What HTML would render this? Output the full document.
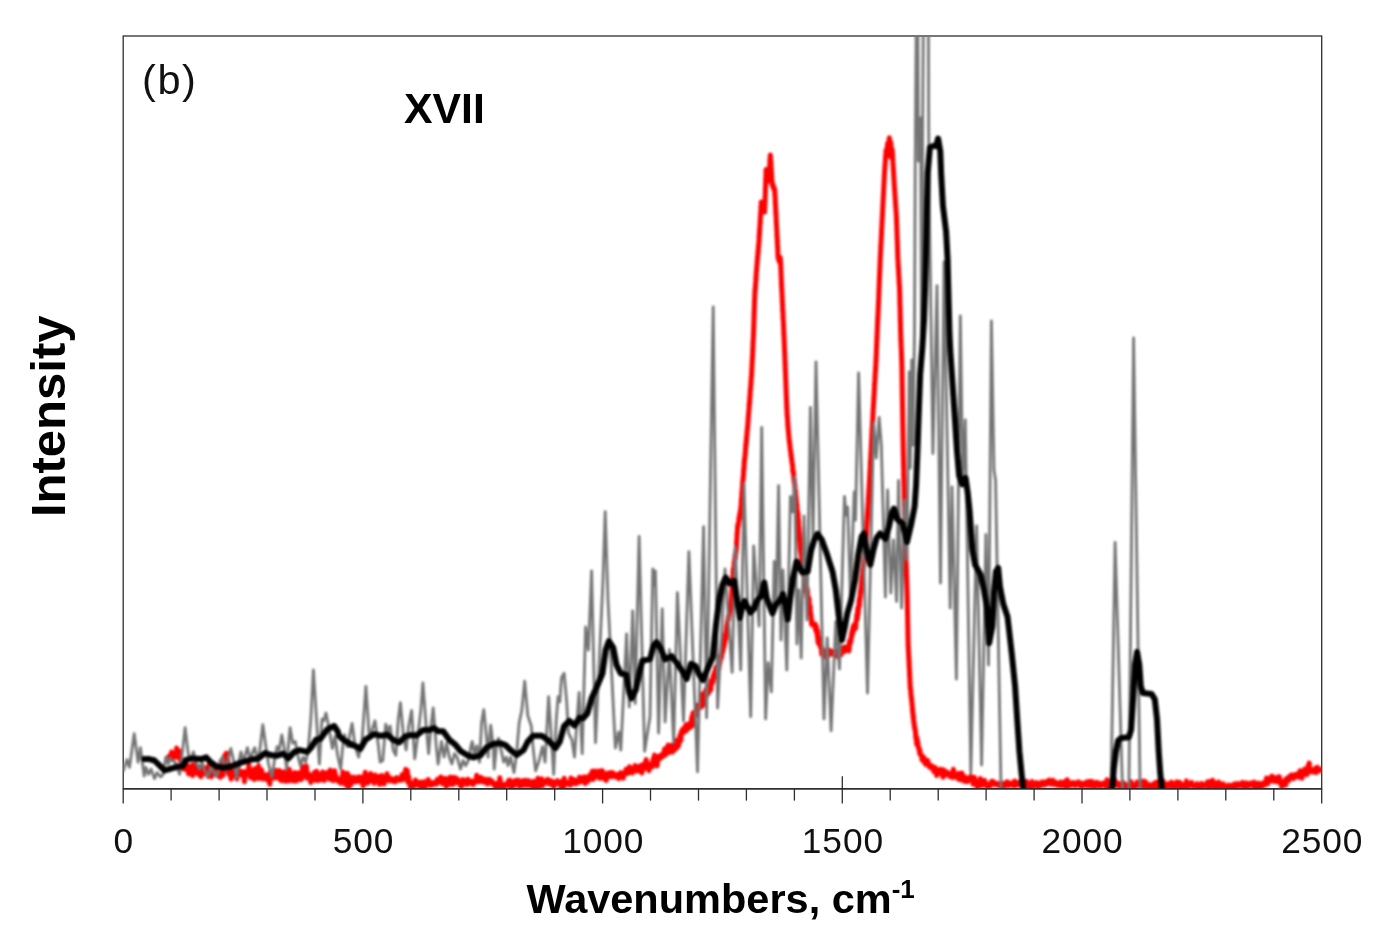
<!DOCTYPE html>
<html lang="en">
<head>
<meta charset="utf-8">
<title>Raman spectrum XVII</title>
<style>
html,body{margin:0;padding:0;background:#fff;}
body{width:1390px;height:944px;overflow:hidden;position:relative;font-family:"Liberation Sans",sans-serif;}
svg{position:absolute;left:0;top:0;display:block;}
.tk text{font-family:"Liberation Sans",sans-serif;font-size:35.3px;fill:#111;letter-spacing:0.9px;}
.b{font-family:"Liberation Sans",sans-serif;font-weight:bold;fill:#000;}
</style>
</head>
<body>
<svg width="1390" height="944" viewBox="0 0 1390 944">
<defs><clipPath id="plot"><rect x="123.2" y="36.0" width="1198.5" height="752.5"/></clipPath></defs>
<rect x="0" y="0" width="1390" height="944" fill="#fff"/>
<g stroke="#2e2e2e" stroke-width="1.3" fill="none">
<rect x="123.2" y="36.0" width="1198.5" height="752.8"/>
<line x1="123.2" y1="788.8" x2="123.2" y2="803.5"/>
<line x1="171.1" y1="788.8" x2="171.1" y2="800.6"/>
<line x1="219.1" y1="788.8" x2="219.1" y2="800.6"/>
<line x1="267.0" y1="788.8" x2="267.0" y2="800.6"/>
<line x1="315.0" y1="788.8" x2="315.0" y2="800.6"/>
<line x1="362.9" y1="788.8" x2="362.9" y2="803.5"/>
<line x1="410.8" y1="788.8" x2="410.8" y2="800.6"/>
<line x1="458.8" y1="788.8" x2="458.8" y2="800.6"/>
<line x1="506.7" y1="788.8" x2="506.7" y2="800.6"/>
<line x1="554.7" y1="788.8" x2="554.7" y2="800.6"/>
<line x1="602.6" y1="788.8" x2="602.6" y2="803.5"/>
<line x1="650.5" y1="788.8" x2="650.5" y2="800.6"/>
<line x1="698.5" y1="788.8" x2="698.5" y2="800.6"/>
<line x1="746.4" y1="788.8" x2="746.4" y2="800.6"/>
<line x1="794.4" y1="788.8" x2="794.4" y2="800.6"/>
<line x1="842.3" y1="776.3" x2="842.3" y2="803.5"/>
<line x1="890.2" y1="788.8" x2="890.2" y2="800.6"/>
<line x1="938.2" y1="788.8" x2="938.2" y2="800.6"/>
<line x1="986.1" y1="788.8" x2="986.1" y2="800.6"/>
<line x1="1034.1" y1="788.8" x2="1034.1" y2="800.6"/>
<line x1="1082.0" y1="788.8" x2="1082.0" y2="803.5"/>
<line x1="1129.9" y1="788.8" x2="1129.9" y2="800.6"/>
<line x1="1177.9" y1="788.8" x2="1177.9" y2="800.6"/>
<line x1="1225.8" y1="788.8" x2="1225.8" y2="800.6"/>
<line x1="1273.8" y1="788.8" x2="1273.8" y2="800.6"/>
<line x1="1321.7" y1="788.8" x2="1321.7" y2="803.5"/>
</g>
<g clip-path="url(#plot)"><g style="filter:blur(0.8px)" fill="none" stroke-linejoin="round" stroke-linecap="round">
<polyline stroke="#ff0000" stroke-width="5" points="169.2,756.1 169.8,758.3 170.4,755.3 171.0,754.5 171.6,752.0 172.1,754.0 172.7,758.0 173.4,755.3 174.1,757.2 174.8,754.2 175.5,754.5 176.2,753.8 176.6,748.1 177.1,757.3 177.6,756.7 178.0,757.2 178.5,750.4 179.0,750.8 179.4,754.3 179.9,756.3 180.3,759.6 180.6,759.0 180.9,761.6 181.3,758.4 181.6,762.3 181.9,763.2 182.3,760.3 182.6,769.1 182.9,765.8 183.3,768.6 183.6,763.1 184.0,763.4 184.5,765.2 185.1,766.5 185.7,769.5 186.2,768.7 186.8,766.8 187.4,765.6 188.0,767.5 188.5,773.9 189.1,767.5 189.7,771.6 190.3,772.5 191.1,766.0 191.8,771.3 192.6,775.6 193.3,764.4 194.1,770.2 194.8,771.0 195.6,768.6 196.3,773.1 197.1,771.3 197.8,766.5 198.6,774.4 199.3,773.9 200.1,774.9 200.8,776.6 201.6,773.0 202.3,772.2 203.1,767.5 203.8,774.0 204.6,769.9 205.3,770.5 206.1,767.7 206.8,768.7 207.6,770.2 208.3,776.4 209.1,765.1 209.8,767.0 210.6,772.8 211.3,776.9 212.1,774.0 212.8,765.5 213.6,763.4 214.3,773.2 215.1,769.5 215.8,768.2 216.6,775.3 217.3,775.7 218.1,772.5 218.8,772.8 219.6,773.5 220.3,777.4 221.1,774.1 221.8,773.8 222.6,773.9 223.0,766.4 223.1,775.3 223.2,773.5 223.3,771.3 223.3,762.0 223.4,765.8 223.5,770.1 223.6,760.3 223.6,765.1 223.7,768.4 223.8,759.8 223.9,769.0 223.9,764.6 224.0,761.5 224.1,762.4 224.1,762.7 224.2,760.2 224.3,762.9 224.4,756.0 224.4,756.1 224.7,760.5 225.4,756.7 226.1,753.4 226.8,759.3 227.1,761.5 227.1,755.8 227.2,753.3 227.3,758.3 227.3,759.0 227.4,759.3 227.5,765.8 227.5,758.3 227.6,766.8 227.7,758.9 227.8,761.3 227.8,766.9 227.9,769.3 228.0,769.2 228.0,768.2 228.1,768.2 228.2,769.0 228.2,771.2 228.3,769.4 228.4,771.7 228.5,773.4 228.7,772.0 229.5,774.7 230.2,774.1 231.0,779.1 231.7,773.4 232.5,770.9 233.2,771.2 233.9,772.5 234.7,775.7 235.4,771.5 236.2,774.0 236.9,779.0 237.7,764.1 238.4,769.1 239.2,773.8 239.9,774.4 240.7,773.9 241.4,771.7 242.2,775.5 242.9,774.3 243.7,771.6 244.4,781.7 245.1,774.8 245.9,771.7 246.6,773.3 247.4,773.0 248.1,773.6 248.9,765.1 249.6,772.3 250.4,777.5 251.1,770.1 251.9,773.9 252.6,777.4 253.4,777.2 254.1,779.4 254.9,768.6 255.6,773.2 256.4,773.3 257.1,776.7 257.9,778.3 258.6,765.8 259.3,778.4 260.1,769.8 260.8,777.1 261.6,769.8 262.3,775.5 263.1,779.0 263.8,774.5 264.6,775.7 265.3,777.9 266.1,775.7 266.8,775.0 267.6,780.5 268.3,778.9 269.1,774.4 269.8,784.3 270.6,771.6 271.3,778.6 272.1,774.6 272.8,776.0 273.6,778.0 274.3,776.3 275.1,777.8 275.8,770.4 276.6,770.5 277.3,777.7 278.1,772.4 278.8,772.2 279.6,770.7 280.3,780.0 281.1,778.3 281.8,780.7 282.6,772.6 283.3,775.8 284.1,771.9 284.8,778.4 285.6,781.2 286.3,772.8 287.1,781.1 287.8,779.2 288.6,775.3 289.3,769.2 290.1,780.7 290.8,775.6 291.6,773.9 292.3,777.3 293.1,777.3 293.8,781.1 294.6,772.5 295.3,779.9 296.1,781.0 296.8,780.7 297.5,775.0 298.2,772.9 299.0,778.7 299.7,775.5 300.4,775.3 301.2,779.6 301.9,773.6 302.6,766.5 303.3,772.8 304.0,767.6 304.2,776.0 304.4,773.6 304.6,769.7 304.7,771.0 304.9,773.1 305.1,769.8 305.3,773.4 305.5,767.9 305.6,772.2 305.8,774.4 305.9,775.6 306.0,768.5 306.2,774.6 306.3,765.9 306.4,769.4 306.6,767.1 306.7,778.2 306.9,771.1 307.0,776.0 307.7,775.4 308.5,776.0 309.2,774.2 310.0,777.1 310.7,782.4 311.5,776.5 312.2,778.3 313.0,779.9 313.7,775.9 314.5,772.4 315.2,774.8 316.0,780.4 316.7,771.2 317.5,774.9 318.2,780.4 318.9,779.7 319.7,777.1 320.4,779.9 321.2,777.8 321.9,773.3 322.7,772.0 323.4,775.3 324.2,780.6 324.9,775.6 325.7,774.6 326.4,775.1 327.2,772.5 327.9,777.4 328.7,773.9 329.4,779.2 330.2,770.0 330.9,779.2 331.7,775.9 332.4,771.6 333.1,780.7 333.9,777.4 334.6,770.8 335.4,775.4 336.1,779.4 336.9,777.0 337.6,781.2 338.4,781.2 339.1,781.0 339.9,779.9 340.6,783.3 341.4,781.1 342.1,780.4 342.9,771.9 343.6,782.1 344.4,783.5 345.1,778.1 345.9,777.6 346.6,785.8 347.4,773.3 348.1,781.0 348.9,787.7 349.6,776.3 350.4,781.3 351.1,784.4 351.9,779.2 352.6,781.0 353.4,781.8 354.1,777.1 354.9,779.3 355.6,780.3 356.4,781.6 357.1,779.4 357.9,779.0 358.6,776.9 359.4,778.6 360.1,781.8 360.8,779.7 361.6,777.1 362.3,777.1 363.1,786.0 363.8,782.1 364.6,780.8 365.3,772.3 366.1,780.6 366.8,780.2 367.6,783.2 368.3,779.9 369.1,778.6 369.8,780.0 370.6,773.6 371.3,781.2 372.1,779.3 372.8,776.7 373.6,782.0 374.3,783.3 375.1,775.0 375.8,777.0 376.6,779.5 377.3,779.3 378.1,777.8 378.8,776.3 379.5,784.4 380.3,781.6 381.0,775.9 381.8,775.5 382.5,783.5 383.3,781.7 384.0,783.9 384.8,781.3 385.5,777.0 386.3,779.9 387.0,773.7 387.8,777.4 388.5,779.2 389.3,780.8 390.0,777.6 390.8,779.2 391.5,780.7 392.3,780.6 393.0,781.3 393.8,780.2 394.5,778.9 395.3,781.8 396.0,779.9 396.8,777.7 397.5,778.2 398.3,779.9 399.0,779.7 399.8,780.4 400.4,779.6 400.9,779.6 401.4,778.2 402.0,774.8 402.5,778.6 403.0,779.7 403.5,777.6 404.1,775.4 404.6,776.6 405.1,772.3 405.7,769.4 406.1,774.4 406.4,772.5 406.7,777.6 407.0,773.5 407.3,770.2 407.6,775.0 407.9,782.5 408.2,778.1 408.6,776.2 408.9,778.4 409.2,782.5 409.5,783.1 409.8,782.9 410.2,786.9 410.9,784.8 411.7,782.9 412.4,784.5 413.2,787.2 413.9,785.4 414.7,785.5 415.4,780.0 416.2,782.5 416.9,784.7 417.7,782.0 418.4,785.6 419.2,784.3 419.9,785.1 420.7,782.2 421.4,789.3 422.2,785.9 422.9,782.1 423.7,782.9 424.4,789.4 425.2,781.7 425.9,784.9 426.7,785.1 427.4,782.6 428.2,779.5 428.9,783.0 429.7,783.4 430.4,785.4 431.2,784.5 431.9,782.5 432.7,784.7 433.4,783.8 434.2,782.9 434.9,782.5 435.7,781.7 436.4,784.1 437.2,779.6 437.9,780.7 438.7,782.3 439.4,778.5 440.2,781.1 440.9,777.0 441.7,780.4 442.4,783.7 443.2,783.6 443.9,782.0 444.7,781.5 445.4,778.4 446.2,786.8 446.9,783.4 447.7,784.9 448.4,779.7 449.2,781.5 449.9,777.3 450.7,784.1 451.4,784.5 452.2,777.2 452.9,782.1 453.7,783.9 454.4,777.7 455.2,777.6 455.9,779.7 456.7,780.9 457.4,778.9 458.1,782.7 458.9,783.3 459.6,784.4 460.4,784.6 461.1,786.7 461.9,785.9 462.6,779.5 463.4,781.7 464.1,780.3 464.9,780.3 465.6,783.0 466.4,783.2 467.1,784.6 467.9,779.2 468.6,780.2 469.4,783.4 470.1,783.0 470.8,782.5 471.6,783.0 472.3,781.0 473.0,784.6 473.8,783.6 474.5,782.2 475.2,780.5 476.0,781.7 476.7,775.2 477.4,779.2 478.2,781.7 478.9,777.5 479.6,781.8 480.3,781.5 481.1,777.4 481.8,780.1 482.5,779.8 483.3,781.8 484.0,782.4 484.7,781.0 485.4,779.1 486.1,781.2 486.8,781.7 487.5,784.0 488.2,783.2 488.9,780.8 489.6,779.4 490.3,782.2 491.0,781.5 491.7,780.8 492.4,783.6 493.1,782.9 493.8,784.7 494.6,785.8 495.3,783.3 496.1,790.3 496.8,783.4 497.6,787.0 498.3,784.4 499.0,786.9 499.8,777.8 500.5,781.9 501.3,784.4 502.0,785.3 502.8,789.7 503.5,784.4 504.3,786.8 505.0,785.4 505.8,785.8 506.5,784.6 507.3,782.8 508.0,784.5 508.8,780.3 509.5,786.1 510.2,780.3 511.0,783.5 511.7,788.3 512.5,782.1 513.2,782.7 514.0,785.6 514.7,782.6 515.5,780.3 516.2,783.0 517.0,783.8 517.7,784.1 518.5,780.1 519.2,786.6 520.0,786.3 520.7,782.1 521.4,782.8 522.2,781.0 522.9,785.8 523.7,780.4 524.4,784.0 525.2,781.0 525.9,780.5 526.7,784.2 527.4,785.8 528.2,782.4 528.9,780.7 529.7,784.6 530.4,782.4 531.2,783.4 531.9,786.6 532.7,785.6 533.4,781.3 534.2,788.6 534.9,782.8 535.7,784.8 536.4,781.1 537.2,782.7 537.9,778.3 538.7,787.6 539.4,786.5 540.2,779.8 540.9,779.1 541.7,778.8 542.4,786.1 543.2,781.8 543.9,782.8 544.7,782.2 545.4,782.7 546.2,780.2 546.9,783.1 547.7,779.3 548.4,782.8 549.2,783.8 549.9,784.2 550.7,782.4 551.4,780.7 552.2,783.4 552.9,781.7 553.7,787.1 554.4,785.0 555.2,782.7 555.9,781.8 556.7,781.2 557.4,780.6 558.2,782.1 558.9,783.8 559.7,784.3 560.4,784.5 561.2,788.5 561.9,781.2 562.7,783.1 563.4,789.8 564.2,778.2 564.9,781.7 565.7,783.6 566.4,783.5 567.2,784.2 567.9,782.5 568.7,784.1 569.4,783.3 570.2,785.2 570.9,778.1 571.6,780.5 572.4,782.6 573.1,779.7 573.8,779.5 574.5,783.7 575.3,780.2 576.0,783.4 576.7,783.5 577.4,782.1 578.2,782.5 578.9,780.7 579.6,777.1 580.4,780.5 581.1,781.6 581.8,778.7 582.5,779.6 583.1,781.5 583.8,777.0 584.5,780.6 585.2,783.5 585.9,776.9 586.6,778.5 587.3,777.4 588.0,781.5 588.7,778.0 589.4,779.3 590.1,774.8 590.8,776.3 591.5,776.0 592.2,771.3 592.9,779.5 593.7,778.0 594.4,770.9 595.1,777.3 595.9,774.9 596.6,776.2 597.3,775.9 598.1,770.9 598.8,774.1 599.6,778.4 600.3,772.9 601.0,771.6 601.8,770.6 602.5,770.8 603.2,775.0 604.0,778.7 604.7,775.6 605.5,775.2 606.2,780.5 606.9,773.5 607.7,773.2 608.4,776.5 609.1,776.7 609.9,772.8 610.6,772.5 611.3,776.4 612.1,776.5 612.8,772.6 613.6,775.4 614.3,774.4 615.0,776.8 615.8,775.2 616.5,775.1 617.3,774.3 618.0,777.8 618.7,778.6 619.5,773.9 620.2,776.9 620.9,772.6 621.7,774.6 622.4,776.2 623.2,778.1 623.9,773.0 624.6,773.6 625.3,774.0 626.0,769.3 626.7,773.0 627.4,770.9 628.1,773.3 628.8,769.2 629.5,766.7 630.2,771.6 630.9,771.9 631.6,769.6 632.3,773.0 633.0,769.7 633.7,768.6 634.3,771.1 635.0,765.5 635.7,767.6 636.4,769.0 637.1,771.0 637.8,768.0 638.5,769.0 639.2,766.2 639.9,768.4 640.6,771.7 641.3,765.3 642.0,772.9 642.7,764.8 643.4,766.2 644.1,766.4 644.8,768.3 645.5,762.1 646.2,759.6 646.9,766.4 647.6,766.6 648.3,765.9 648.9,770.7 649.6,764.2 650.3,764.1 651.0,765.6 651.7,763.8 652.4,766.9 653.1,759.1 653.8,761.0 654.5,755.0 655.2,763.6 655.9,760.2 656.6,763.2 657.1,765.9 657.6,759.7 658.1,758.5 658.6,757.3 659.1,755.9 659.6,755.8 660.1,758.6 660.6,756.5 661.1,756.0 661.6,754.8 662.1,757.1 662.6,755.4 663.1,753.2 663.6,754.7 664.1,752.1 664.6,749.0 665.2,755.3 665.8,752.2 666.4,748.0 666.9,752.9 667.5,750.5 668.1,745.0 668.7,752.8 669.2,749.0 669.9,750.5 670.6,749.1 671.3,748.5 671.9,745.2 672.6,752.0 673.3,749.9 673.9,749.0 674.3,750.0 674.6,748.7 675.0,749.6 675.4,746.2 675.8,746.5 676.2,740.3 676.6,744.2 677.0,746.4 677.4,747.5 677.8,742.4 678.1,742.4 678.3,746.1 678.6,740.4 678.8,742.4 679.0,744.2 679.3,739.2 679.5,741.6 679.8,735.8 680.0,737.5 680.2,736.1 680.5,735.9 680.7,737.8 680.9,740.3 681.2,731.7 681.5,731.3 682.1,733.6 682.7,729.1 683.3,732.6 683.8,732.3 684.4,729.7 685.0,731.3 685.5,725.4 686.1,730.9 686.7,724.4 687.3,726.1 687.8,726.0 688.2,725.8 688.5,728.4 688.9,725.7 689.3,723.8 689.6,725.6 690.0,727.6 690.3,722.9 690.7,723.1 691.1,724.8 691.4,721.6 691.8,716.9 692.1,726.0 692.5,724.6 692.9,713.1 693.2,717.5 693.6,718.0 693.9,718.8 694.3,717.4 694.7,714.3 695.0,711.6 695.4,713.9 695.8,715.7 696.1,709.5 696.5,709.0 696.9,711.0 697.2,705.3 697.6,709.1 698.0,707.9 698.3,709.6 698.7,705.9 699.1,704.8 699.4,705.4 699.8,705.7 700.2,703.4 700.5,704.5 700.9,705.8 701.2,706.2 701.6,706.9 701.9,699.8 702.3,700.1 702.6,694.0 703.0,704.8 703.3,697.3 703.7,698.4 704.0,699.2 704.4,693.7 704.7,697.7 705.1,695.8 705.5,690.5 705.8,695.3 706.2,697.0 706.6,688.4 707.0,694.7 707.3,692.5 707.7,692.6 708.1,691.8 708.5,693.4 708.8,688.8 709.2,691.0 709.6,687.0 710.0,689.3 710.3,684.7 710.6,685.8 710.8,689.9 711.0,685.8 711.3,683.5 711.5,680.2 711.7,680.4 711.9,682.3 712.1,683.5 712.3,681.4 712.5,681.0 712.7,678.8 712.9,681.7 713.2,676.4 713.4,675.3 713.6,678.3 713.8,675.5 714.1,673.9 714.4,672.4 714.7,672.6 715.1,674.2 715.4,672.8 715.7,668.1 716.0,671.6 716.3,670.3 716.6,666.6 716.9,670.5 717.2,667.1 717.5,666.2 717.8,668.5 718.1,669.2 718.3,663.2 718.6,665.4 718.8,661.3 719.0,668.9 719.3,660.9 719.5,664.6 719.7,659.0 720.0,662.1 720.2,662.0 720.4,655.5 720.7,657.4 720.9,657.8 721.1,656.3 721.4,654.9 721.5,657.6 721.7,654.4 721.9,651.6 722.1,653.9 722.3,650.0 722.4,652.8 722.6,650.0 722.8,650.1 723.0,650.7 723.2,648.6 723.3,646.1 723.5,645.0 723.7,647.7 723.9,646.4 724.1,643.8 724.2,645.1 724.4,644.0 724.6,643.4 724.7,639.2 724.8,640.8 724.9,641.5 725.0,640.5 725.1,640.0 725.2,635.2 725.4,637.6 725.5,637.3 725.6,639.0 725.7,634.1 725.8,634.1 725.9,633.8 726.0,634.1 726.2,631.7 726.3,632.9 726.4,629.8 726.5,630.3 726.6,628.7 726.7,628.7 726.8,627.0 727.0,625.1 727.1,627.6 727.2,625.9 727.3,624.2 727.4,624.3 727.5,624.5 727.6,621.4 727.8,621.7 727.9,621.8 728.0,621.0 728.2,619.3 728.3,616.4 728.5,619.7 728.6,617.8 728.7,616.7 728.9,615.6 729.0,615.6 729.2,614.0 729.3,612.5 729.5,612.1 729.6,611.6 729.7,610.8 729.9,609.4 730.0,610.9 730.2,607.8 730.3,609.4 730.4,606.7 730.6,607.6 730.7,608.1 730.9,605.9 731.0,604.1 731.1,604.2 731.1,603.6 731.2,600.6 731.2,601.2 731.3,601.4 731.3,599.9 731.4,599.8 731.4,599.8 731.5,599.1 731.5,598.5 731.6,597.4 731.6,595.6 731.7,595.2 731.7,594.1 731.8,593.3 731.8,592.7 731.9,590.1 731.9,591.1 732.0,590.7 732.0,588.8 732.1,589.2 732.1,589.1 732.2,587.5 732.2,589.5 732.3,583.1 732.3,585.2 732.4,582.5 732.4,585.2 732.5,586.3 732.5,579.5 732.6,581.9 732.6,581.6 732.7,579.9 732.7,580.1 732.8,576.0 732.8,579.0 732.9,577.7 732.9,576.5 733.0,575.0 733.0,575.8 733.1,573.7 733.1,573.8 733.1,572.1 733.2,569.3 733.3,571.2 733.4,570.8 733.5,570.7 733.6,568.0 733.7,568.2 733.8,568.3 733.9,567.0 734.0,567.5 734.1,567.7 734.2,563.5 734.3,561.5 734.4,564.1 734.5,564.2 734.6,562.7 734.7,561.8 734.8,559.4 734.9,558.5 735.0,559.7 735.1,556.8 735.2,555.0 735.3,555.2 735.4,558.6 735.5,557.2 735.6,553.3 735.7,552.5 735.8,553.0 735.9,551.0 736.0,552.8 736.1,550.4 736.2,548.4 736.3,550.5 736.4,547.5 736.4,547.7 736.5,546.7 736.5,545.6 736.6,545.6 736.6,543.6 736.6,541.5 736.7,540.3 736.7,540.7 736.8,540.6 736.8,540.7 736.8,540.0 736.9,539.9 736.9,538.6 737.0,536.8 737.0,536.1 737.0,533.7 737.1,535.3 737.1,535.3 737.2,534.6 737.2,533.1 737.2,532.3 737.3,532.9 737.3,531.0 737.4,531.1 737.4,530.2 737.4,529.0 737.5,529.6 737.6,526.6 737.7,526.1 737.9,524.8 738.0,524.1 738.1,526.2 738.2,525.7 738.4,522.9 738.5,522.8 738.6,522.8 738.8,521.6 738.9,521.3 739.0,517.6 739.1,517.6 739.3,518.2 739.4,518.6 739.5,516.3 739.7,514.4 739.8,514.3 739.9,513.2 740.0,512.2 740.2,514.3 740.3,511.0 740.4,511.0 740.6,512.9 740.7,510.9 740.7,509.2 740.8,507.3 740.9,507.8 740.9,508.5 741.0,506.5 741.0,506.6 741.1,504.4 741.2,504.2 741.2,502.6 741.3,502.6 741.3,502.9 741.4,498.8 741.5,499.7 741.5,499.3 741.6,497.6 741.6,497.2 741.7,497.8 741.7,498.5 741.8,496.1 741.9,495.0 741.9,492.0 742.0,495.4 742.0,492.4 742.1,491.5 742.2,489.5 742.2,490.0 742.3,488.0 742.3,488.7 742.4,488.4 742.4,487.1 742.5,486.7 742.6,484.6 742.6,486.6 742.7,483.3 742.7,481.2 742.8,482.4 742.9,480.9 742.9,479.9 743.0,479.9 743.0,480.0 743.1,477.5 743.2,478.0 743.2,479.1 743.3,477.4 743.3,475.7 743.4,475.3 743.5,474.2 743.5,473.6 743.6,473.8 743.6,472.0 743.7,468.5 743.8,470.6 743.8,468.8 743.9,469.9 743.9,467.7 744.0,467.8 744.0,469.5 744.1,464.9 744.2,464.1 744.2,463.0 744.3,461.0 744.3,460.9 744.4,462.9 744.5,460.9 744.5,458.7 744.6,458.4 744.6,460.2 744.7,457.8 744.8,457.5 744.8,457.6 744.9,458.1 744.9,458.0 745.0,456.2 745.1,454.4 745.1,453.7 745.2,454.9 745.3,453.7 745.4,450.8 745.4,451.0 745.5,450.1 745.6,449.0 745.6,447.6 745.7,445.9 745.8,446.1 745.8,444.1 745.9,446.7 746.0,445.1 746.1,442.3 746.1,444.7 746.2,443.3 746.3,439.2 746.3,443.0 746.4,441.0 746.5,441.7 746.5,437.0 746.6,438.4 746.7,437.5 746.8,436.5 746.8,435.7 746.9,436.0 747.0,432.2 747.0,431.8 747.1,430.9 747.2,431.1 747.2,430.3 747.3,430.7 747.4,429.9 747.4,428.8 747.5,427.2 747.5,426.8 747.6,427.7 747.7,426.7 747.7,425.2 747.8,423.9 747.8,425.4 747.9,422.1 747.9,422.9 748.0,422.7 748.1,420.3 748.1,420.8 748.2,417.7 748.2,419.6 748.3,417.8 748.4,414.9 748.4,416.9 748.5,414.3 748.5,416.1 748.6,413.0 748.7,412.9 748.7,412.7 748.8,411.2 748.8,411.2 748.9,409.5 748.9,410.2 749.0,408.6 749.1,408.1 749.1,404.0 749.2,407.8 749.2,405.7 749.3,402.7 749.3,404.2 749.4,403.9 749.5,403.9 749.5,400.6 749.6,403.0 749.6,400.2 749.7,402.5 749.7,398.7 749.8,399.0 749.8,397.0 749.9,395.3 750.0,397.2 750.0,396.2 750.1,396.3 750.1,394.7 750.2,392.2 750.2,390.2 750.3,390.6 750.3,389.9 750.4,388.9 750.5,389.9 750.5,388.8 750.6,387.4 750.6,387.1 750.7,386.0 750.7,385.7 750.8,385.6 750.9,385.1 750.9,382.4 751.0,380.6 751.0,383.4 751.1,381.1 751.1,381.5 751.2,377.5 751.2,378.3 751.3,378.0 751.4,375.5 751.4,375.8 751.5,376.6 751.5,376.3 751.6,376.1 751.6,372.4 751.7,371.0 751.7,372.6 751.7,372.3 751.8,370.7 751.8,368.2 751.8,369.9 751.9,369.2 751.9,368.1 751.9,366.1 752.0,366.3 752.0,366.2 752.1,363.8 752.1,361.5 752.1,363.4 752.2,362.8 752.2,361.5 752.2,361.8 752.3,359.3 752.3,359.1 752.3,358.1 752.4,358.4 752.4,358.9 752.4,355.9 752.5,358.0 752.5,356.6 752.6,354.9 752.6,353.9 752.6,354.6 752.7,351.5 752.7,350.9 752.7,349.0 752.8,350.1 752.8,350.4 752.8,348.6 752.9,347.8 752.9,346.3 752.9,346.0 753.0,343.3 753.0,345.5 753.0,343.0 753.1,341.4 753.1,341.1 753.2,340.3 753.2,341.5 753.2,341.0 753.3,337.4 753.3,339.4 753.3,338.6 753.4,336.1 753.4,334.2 753.4,334.4 753.5,333.7 753.5,334.2 753.5,332.6 753.6,329.8 753.6,331.8 753.6,328.9 753.6,331.1 753.7,327.8 753.7,327.7 753.7,326.7 753.7,326.4 753.8,327.8 753.8,326.5 753.8,325.5 753.8,324.4 753.9,321.4 753.9,321.9 753.9,321.1 753.9,319.8 753.9,320.9 754.0,318.6 754.0,317.9 754.0,316.8 754.0,314.8 754.1,317.2 754.1,317.4 754.1,315.2 754.1,313.1 754.2,310.4 754.2,313.0 754.2,313.5 754.2,311.6 754.3,311.6 754.3,311.5 754.3,310.4 754.3,307.7 754.4,308.8 754.4,307.7 754.4,304.2 754.4,304.8 754.5,302.8 754.5,303.6 754.5,303.7 754.5,301.0 754.6,299.1 754.6,302.3 754.6,300.5 754.6,301.0 754.7,296.9 754.7,299.1 754.7,299.5 754.7,298.7 754.8,295.3 754.8,295.1 754.8,293.8 754.9,294.5 754.9,293.8 755.0,291.9 755.0,289.4 755.1,291.2 755.1,289.0 755.2,289.6 755.3,288.4 755.3,289.2 755.4,287.9 755.4,285.3 755.5,285.5 755.5,286.4 755.6,282.9 755.6,283.3 755.7,283.5 755.7,282.8 755.8,281.2 755.9,278.2 755.9,277.6 756.0,278.6 756.0,278.0 756.1,279.9 756.1,275.0 756.2,276.7 756.2,275.5 756.3,271.8 756.3,272.1 756.4,272.5 756.4,271.0 756.5,270.7 756.6,270.7 756.6,268.4 756.7,269.2 756.7,267.1 756.8,266.4 756.8,267.0 756.9,264.9 756.9,265.2 757.0,266.0 757.1,263.4 757.1,262.4 757.2,262.8 757.2,260.7 757.3,261.7 757.4,258.1 757.4,259.6 757.5,257.5 757.6,256.4 757.6,258.8 757.7,254.9 757.7,257.3 757.8,255.2 757.9,255.4 757.9,251.7 758.0,253.6 758.1,253.2 758.1,250.5 758.2,249.8 758.3,252.1 758.3,248.6 758.4,247.2 758.4,246.2 758.5,246.7 758.6,245.8 758.6,244.9 758.7,246.0 758.8,242.8 758.8,243.0 758.9,243.4 759.0,239.7 759.0,241.4 759.1,241.6 759.1,237.1 759.2,236.6 759.2,236.0 759.3,234.2 759.3,236.3 759.4,232.7 759.4,234.8 759.5,235.2 759.5,230.8 759.6,231.6 759.6,228.9 759.7,231.4 759.7,228.8 759.7,228.7 759.8,228.3 759.8,228.1 759.9,226.3 759.9,226.0 760.0,224.6 760.0,224.6 760.1,222.3 760.1,223.1 760.2,219.9 760.2,220.9 760.3,223.0 760.3,220.1 760.3,217.7 760.4,218.8 760.4,216.6 760.5,215.0 760.5,215.4 760.6,216.4 760.6,215.2 760.7,213.9 760.7,212.1 760.8,211.2 760.8,213.4 760.8,211.3 760.9,209.1 760.9,207.0 761.0,207.1 761.0,211.0 761.1,205.9 761.1,206.4 761.2,206.0 761.2,204.8 761.3,203.9 761.3,201.9 761.6,202.9 761.8,206.9 762.1,204.7 762.4,207.3 762.7,204.9 762.9,207.3 763.2,208.7 763.5,210.3 763.7,208.4 764.0,211.2 764.3,211.6 764.6,211.0 764.6,212.0 764.6,209.6 764.7,208.9 764.7,209.1 764.7,205.3 764.8,207.5 764.8,205.7 764.8,204.4 764.8,204.9 764.9,205.6 764.9,203.4 764.9,204.7 765.0,201.0 765.0,200.1 765.0,202.8 765.0,200.6 765.1,200.5 765.1,197.7 765.1,198.9 765.1,197.5 765.2,197.2 765.2,195.7 765.2,196.3 765.3,193.4 765.3,192.2 765.3,190.9 765.3,193.3 765.4,190.3 765.4,189.1 765.4,188.5 765.4,188.4 765.5,186.6 765.5,187.1 765.5,185.9 765.6,185.2 765.6,184.0 765.6,184.4 765.6,183.1 765.7,183.0 765.7,182.5 765.7,181.8 765.7,178.0 765.8,179.3 765.8,178.2 765.8,179.3 765.9,175.8 765.9,176.1 765.9,175.8 765.9,175.0 766.0,175.9 766.0,173.4 766.0,174.3 766.0,170.7 766.1,169.5 766.1,172.5 766.4,172.3 766.6,173.1 766.8,173.4 767.0,174.5 767.3,173.2 767.5,176.5 767.7,175.4 768.0,178.0 768.2,177.6 768.4,175.9 768.7,177.4 768.9,181.0 768.9,178.8 769.0,177.8 769.0,177.8 769.1,176.2 769.1,175.4 769.2,175.4 769.2,174.7 769.3,175.6 769.3,173.1 769.3,174.5 769.4,173.7 769.4,172.8 769.5,171.3 769.5,169.4 769.6,168.7 769.6,167.6 769.7,166.1 769.7,166.2 769.8,164.8 769.8,166.7 769.8,164.7 769.9,162.7 769.9,160.2 770.0,161.7 770.0,160.5 770.1,159.0 770.1,158.2 770.2,156.1 770.2,158.7 770.3,157.2 770.3,159.6 770.3,155.8 770.4,154.9 770.4,157.2 770.5,156.4 770.5,157.2 770.6,157.3 770.6,157.8 770.7,161.0 770.7,161.2 770.7,162.8 770.8,161.1 770.8,162.3 770.9,161.9 770.9,164.9 771.0,162.8 771.0,165.9 771.0,167.3 771.1,168.4 771.1,166.4 771.2,169.5 771.2,168.1 771.3,168.8 771.3,168.9 771.4,172.6 771.4,174.0 771.4,172.0 771.5,172.6 771.5,173.8 771.6,178.0 771.6,176.9 771.7,175.8 771.7,175.1 771.7,177.2 771.8,180.1 771.8,181.7 771.9,179.9 771.9,180.1 772.0,181.1 772.0,180.2 772.1,184.3 772.1,182.6 772.4,185.9 772.6,183.3 772.9,184.5 773.2,187.1 773.5,186.5 773.8,189.1 774.0,188.8 774.3,188.1 774.6,191.0 774.7,192.0 774.8,189.4 774.8,194.6 774.8,193.8 774.9,194.9 774.9,192.5 775.0,194.6 775.0,195.8 775.0,198.2 775.1,195.9 775.1,197.4 775.2,196.8 775.2,199.6 775.2,201.1 775.3,199.4 775.3,201.5 775.3,203.5 775.4,205.6 775.4,205.2 775.5,204.8 775.5,204.5 775.5,205.6 775.6,206.6 775.6,208.4 775.7,208.9 775.7,211.7 775.7,210.8 775.8,209.9 775.8,213.8 775.9,213.8 775.9,213.5 775.9,213.3 776.0,212.7 776.0,214.4 776.1,217.5 776.1,216.2 776.1,216.3 776.2,218.9 776.2,219.7 776.2,220.9 776.3,221.7 776.3,223.3 776.4,221.4 776.4,224.3 776.4,222.7 776.5,225.5 776.5,225.6 776.6,226.4 776.6,228.1 776.6,227.6 776.7,229.7 776.7,230.2 776.7,230.1 776.8,230.0 776.8,230.5 776.9,231.5 776.9,232.7 776.9,233.6 777.0,237.5 777.0,235.9 777.0,236.8 777.1,235.6 777.1,236.5 777.1,237.8 777.2,239.1 777.2,238.4 777.3,242.3 777.3,240.5 777.3,243.2 777.4,239.8 777.4,243.4 777.4,244.5 777.5,245.1 777.5,246.4 777.5,246.7 777.6,247.3 777.6,245.6 777.7,247.8 777.7,246.6 777.7,250.9 777.8,251.2 777.8,251.4 777.8,251.4 777.9,252.4 777.9,256.1 778.0,256.7 778.0,255.3 778.0,257.7 778.1,255.0 778.1,255.3 778.1,257.8 778.2,258.1 778.3,258.9 778.8,259.3 779.3,261.6 779.9,257.2 780.3,257.7 780.3,258.7 780.4,259.1 780.4,261.0 780.4,262.7 780.5,259.9 780.5,262.3 780.5,262.5 780.6,264.0 780.6,262.5 780.7,263.0 780.7,263.1 780.7,267.2 780.8,267.6 780.8,268.2 780.8,266.0 780.9,269.2 780.9,269.5 780.9,269.4 781.0,270.8 781.0,273.4 781.0,274.0 781.1,274.1 781.1,275.5 781.1,274.9 781.2,276.4 781.2,277.1 781.2,278.5 781.3,278.5 781.3,279.2 781.3,279.9 781.4,280.1 781.4,284.3 781.5,283.0 781.5,283.6 781.5,286.6 781.6,286.3 781.6,283.5 781.6,286.9 781.7,287.8 781.7,289.9 781.7,289.9 781.8,290.0 781.8,288.4 781.8,289.5 781.9,291.7 781.9,292.7 781.9,291.6 782.0,293.1 782.0,293.9 782.0,295.2 782.1,296.2 782.1,296.2 782.2,295.8 782.2,299.6 782.2,300.7 782.3,299.4 782.3,301.6 782.3,301.6 782.4,302.6 782.4,303.1 782.4,302.4 782.5,304.8 782.5,306.0 782.6,304.5 782.6,308.7 782.6,309.6 782.7,310.0 782.7,311.0 782.7,310.2 782.8,309.7 782.8,310.1 782.8,310.6 782.9,312.4 782.9,313.0 783.0,314.6 783.0,312.1 783.0,318.1 783.1,318.8 783.1,316.8 783.1,318.4 783.2,318.9 783.2,319.4 783.2,319.6 783.3,320.4 783.3,320.3 783.4,322.3 783.4,322.8 783.4,323.9 783.5,323.3 783.5,325.1 783.5,325.9 783.6,327.3 783.6,326.0 783.6,328.5 783.7,330.0 783.7,330.3 783.7,329.8 783.8,330.5 783.8,331.5 783.8,333.4 783.8,335.2 783.9,333.8 783.9,334.0 783.9,336.0 784.0,336.5 784.0,335.9 784.0,336.9 784.1,338.4 784.1,340.1 784.1,338.6 784.2,339.6 784.2,342.1 784.2,340.8 784.3,343.2 784.3,344.2 784.3,344.4 784.4,344.1 784.4,346.0 784.4,346.4 784.4,347.9 784.5,347.3 784.5,350.3 784.5,347.8 784.6,350.3 784.6,351.3 784.6,353.2 784.7,352.0 784.7,354.2 784.7,353.6 784.8,355.9 784.8,357.9 784.8,356.0 784.9,357.8 784.9,356.9 784.9,359.9 785.0,361.0 785.0,360.3 785.0,359.7 785.0,362.2 785.1,363.9 785.1,364.6 785.1,365.0 785.2,362.6 785.2,364.7 785.2,368.0 785.2,365.5 785.3,369.1 785.3,370.8 785.3,370.2 785.4,371.4 785.4,370.4 785.4,370.0 785.4,372.1 785.5,372.8 785.5,373.7 785.5,375.3 785.6,375.1 785.6,376.2 785.6,377.3 785.6,377.5 785.7,380.5 785.7,379.5 785.7,379.9 785.7,380.3 785.8,380.5 785.8,383.6 785.8,382.9 785.9,382.2 785.9,383.6 785.9,384.8 785.9,385.2 786.0,387.8 786.0,385.9 786.0,388.6 786.0,388.9 786.1,388.1 786.1,390.3 786.1,390.9 786.2,392.3 786.2,392.0 786.2,393.6 786.2,392.0 786.3,393.4 786.3,396.4 786.3,397.5 786.4,397.0 786.4,397.0 786.4,399.8 786.4,396.7 786.5,399.0 786.5,401.5 786.5,402.3 786.5,401.0 786.6,400.7 786.6,405.5 786.6,404.7 786.7,404.2 786.7,406.0 786.7,407.8 786.8,404.4 786.8,409.6 786.9,409.9 786.9,407.2 787.0,411.4 787.0,409.1 787.0,413.3 787.1,413.2 787.1,416.2 787.2,413.5 787.2,415.0 787.3,417.0 787.3,415.7 787.4,416.4 787.4,417.5 787.5,418.6 787.5,418.2 787.6,420.8 787.6,421.6 787.7,421.8 787.7,424.5 787.8,422.8 787.8,425.5 787.9,424.0 787.9,426.4 788.0,423.9 788.0,427.2 788.1,427.5 788.1,427.8 788.1,428.5 788.2,429.5 788.2,429.8 788.3,428.8 788.4,431.5 788.5,432.3 788.5,433.0 788.6,433.1 788.7,435.0 788.8,436.8 788.9,436.3 789.0,436.8 789.1,439.8 789.2,440.1 789.2,440.7 789.3,441.8 789.4,440.7 789.5,441.7 789.6,443.9 789.7,442.7 789.8,444.0 789.9,445.3 789.9,446.0 790.0,446.0 790.1,448.3 790.2,447.6 790.3,449.4 790.4,450.6 790.5,450.8 790.6,451.7 790.6,450.2 790.7,450.7 790.8,452.3 790.9,454.3 791.0,456.3 791.1,453.8 791.2,456.4 791.3,455.7 791.4,456.6 791.5,457.9 791.6,459.8 791.7,460.0 791.8,461.9 791.9,460.0 792.0,463.0 792.1,463.8 792.2,463.5 792.3,464.8 792.4,464.3 792.5,464.4 792.6,465.9 792.7,466.4 792.7,471.0 792.8,468.1 792.9,471.4 793.0,470.4 793.1,471.3 793.2,472.5 793.3,471.4 793.4,474.2 793.5,474.3 793.6,472.8 793.7,476.1 793.8,476.8 793.9,477.4 793.9,479.5 794.0,477.8 794.1,479.7 794.1,480.7 794.2,479.5 794.3,482.8 794.4,480.3 794.4,481.3 794.5,484.2 794.6,483.0 794.7,484.9 794.7,483.8 794.8,486.6 794.9,485.9 795.0,488.4 795.0,486.9 795.1,490.1 795.2,490.0 795.3,491.1 795.3,491.7 795.4,492.7 795.5,491.7 795.6,490.9 795.6,494.8 795.7,494.4 795.8,495.7 795.9,497.5 795.9,495.4 796.0,497.6 796.1,498.5 796.2,498.7 796.3,501.1 796.4,501.3 796.4,501.2 796.5,501.8 796.6,504.7 796.7,503.7 796.8,505.9 796.9,506.5 796.9,504.4 797.0,506.1 797.1,508.2 797.2,509.3 797.3,510.6 797.4,511.4 797.5,512.4 797.5,511.4 797.6,512.4 797.7,514.3 797.8,513.6 797.9,516.1 798.0,513.7 798.0,517.2 798.1,516.9 798.1,515.5 798.2,519.8 798.2,519.7 798.3,520.1 798.3,519.6 798.4,521.0 798.4,524.2 798.5,522.1 798.5,520.7 798.6,523.6 798.6,523.9 798.7,525.9 798.7,526.4 798.8,526.5 798.8,527.3 798.9,530.3 799.0,528.1 799.0,532.9 799.1,530.7 799.1,530.8 799.2,533.8 799.2,534.3 799.3,533.1 799.3,536.0 799.4,533.6 799.4,535.5 799.5,538.7 799.5,537.8 799.6,537.3 799.6,540.2 799.7,541.4 799.7,541.0 799.8,539.6 799.8,542.1 799.9,543.8 799.9,545.0 800.0,547.0 800.0,545.2 800.1,545.7 800.1,547.0 800.2,549.2 800.3,547.4 800.4,550.9 800.5,546.9 800.6,551.7 800.7,550.7 800.8,552.8 800.9,553.8 801.0,552.3 801.1,554.4 801.2,555.5 801.3,556.7 801.4,555.6 801.5,556.3 801.6,555.9 801.7,562.0 801.8,559.5 801.9,560.2 802.0,559.4 802.1,563.0 802.2,562.0 802.3,565.1 802.4,565.2 802.5,564.9 802.6,566.5 802.7,565.0 802.8,566.7 802.8,567.2 802.9,567.1 803.0,569.4 803.1,569.9 803.2,572.6 803.3,568.5 803.5,571.5 803.6,572.0 803.7,573.2 803.9,575.0 804.0,575.8 804.1,576.1 804.3,576.2 804.4,578.1 804.5,578.7 804.6,576.8 804.8,579.4 804.9,578.8 805.0,579.8 805.2,582.1 805.3,582.7 805.4,583.5 805.6,583.1 805.7,584.6 805.8,584.5 806.0,586.8 806.1,588.7 806.2,591.9 806.4,591.5 806.5,587.5 806.6,589.0 806.8,588.6 806.9,592.2 807.0,596.8 807.2,594.6 807.3,588.7 807.4,591.6 807.6,592.2 807.7,597.1 807.8,596.7 808.0,598.1 808.1,602.3 808.2,597.0 808.3,597.7 808.5,604.9 808.6,601.9 808.7,600.1 808.9,597.9 809.0,599.8 809.1,598.5 809.2,605.0 809.4,605.7 809.5,608.6 809.6,606.7 809.8,606.2 809.9,606.8 810.0,613.6 810.1,605.9 810.3,611.1 810.4,611.5 810.5,613.6 810.6,612.0 810.7,614.8 810.8,616.3 810.9,614.8 811.0,614.9 811.0,616.2 811.1,615.2 811.2,617.7 811.3,618.2 811.4,620.1 811.5,623.5 811.5,624.2 811.8,620.8 812.3,623.8 812.8,623.7 813.2,625.3 813.7,624.2 814.2,625.3 814.7,624.2 815.2,624.0 815.4,628.5 815.6,630.2 815.8,629.5 816.0,629.7 816.1,630.1 816.3,629.1 816.5,626.8 816.7,633.2 816.9,632.8 817.0,631.8 817.2,631.6 817.4,637.5 817.6,631.1 817.8,640.0 817.9,638.2 818.1,642.9 818.3,636.5 818.5,638.9 818.7,638.5 818.9,640.7 819.1,640.6 819.3,640.1 819.5,645.0 819.7,641.4 819.9,642.8 820.1,646.0 820.3,644.2 820.5,645.1 820.7,647.7 820.9,646.7 821.1,645.4 821.3,648.8 821.5,649.2 821.7,654.4 822.1,648.5 822.7,653.7 823.3,650.1 823.9,651.6 824.5,652.1 825.1,653.9 825.7,655.7 826.4,657.9 827.0,652.0 827.6,656.1 828.3,655.0 828.9,654.2 829.6,650.3 830.3,654.2 831.1,651.9 831.8,653.1 832.6,651.7 833.3,654.0 834.1,655.1 834.8,655.2 835.5,652.2 836.3,655.1 837.0,656.2 837.8,650.8 838.5,656.1 839.1,649.3 839.8,653.3 840.5,653.1 841.1,654.8 841.8,651.7 842.5,649.6 843.1,648.5 843.8,647.2 844.5,651.5 845.2,648.8 845.8,647.4 846.5,649.9 847.2,646.6 847.8,647.0 848.5,646.6 848.9,650.9 849.1,649.7 849.3,645.3 849.4,641.3 849.6,644.8 849.8,643.6 850.0,643.5 850.2,643.3 850.3,640.5 850.5,642.7 850.7,641.7 850.9,639.6 851.0,637.4 851.2,636.5 851.4,638.5 851.6,633.6 851.8,635.1 851.9,633.0 852.1,630.8 852.3,634.7 852.5,632.5 852.7,631.9 852.8,633.1 853.0,626.9 853.2,629.5 853.5,629.6 853.8,630.1 854.0,625.0 854.3,628.5 854.6,626.6 854.8,628.5 855.1,627.3 855.4,625.3 855.6,628.3 855.9,622.6 856.2,620.9 856.4,620.4 856.6,618.3 856.7,619.7 856.8,614.7 856.9,618.1 857.0,618.5 857.2,619.1 857.3,615.2 857.4,618.5 857.5,613.1 857.6,613.5 857.7,608.8 857.9,610.6 858.0,609.8 858.1,614.2 858.2,611.3 858.3,606.9 858.4,609.8 858.5,609.0 858.7,606.6 858.8,606.5 858.9,605.0 859.0,603.7 859.1,600.2 859.2,603.2 859.3,605.6 859.4,605.2 859.5,600.6 859.5,598.8 859.6,599.2 859.7,601.0 859.8,599.0 859.9,596.2 860.0,597.5 860.1,595.8 860.2,595.9 860.3,594.0 860.3,592.0 860.4,593.1 860.5,593.2 860.6,590.2 860.7,590.7 860.8,591.1 860.9,588.9 861.0,587.8 861.1,590.2 861.2,588.0 861.2,587.5 861.3,584.5 861.4,586.7 861.5,582.1 861.6,582.7 861.7,583.5 861.8,583.4 861.8,580.0 861.9,579.6 862.0,579.8 862.1,576.6 862.1,578.9 862.2,578.0 862.3,576.1 862.4,576.5 862.4,576.0 862.5,574.7 862.6,574.2 862.7,574.7 862.7,571.6 862.8,571.6 862.9,570.0 863.0,571.1 863.0,568.7 863.1,569.0 863.2,567.8 863.3,567.0 863.3,568.2 863.4,565.3 863.5,566.3 863.5,564.9 863.6,564.7 863.7,562.2 863.8,562.8 863.8,561.8 863.9,559.5 864.0,559.8 864.1,558.6 864.1,557.9 864.2,558.7 864.3,555.6 864.4,553.8 864.4,553.0 864.5,553.7 864.6,552.7 864.7,552.8 864.7,552.6 864.8,553.3 864.9,550.9 865.0,550.3 865.0,548.2 865.1,548.9 865.2,549.1 865.3,548.3 865.3,543.8 865.4,546.3 865.5,546.4 865.6,544.7 865.6,541.3 865.7,541.9 865.8,542.2 865.9,541.3 865.9,539.1 866.0,538.3 866.0,539.7 866.1,536.3 866.1,538.7 866.2,536.3 866.2,535.9 866.3,533.3 866.3,533.4 866.4,534.1 866.4,530.9 866.5,534.2 866.5,529.4 866.5,528.9 866.6,529.6 866.6,529.4 866.7,528.9 866.7,526.9 866.8,526.3 866.8,525.6 866.9,524.4 866.9,521.4 867.0,524.7 867.0,523.1 867.0,522.3 867.1,520.6 867.1,520.9 867.2,519.8 867.2,519.0 867.3,519.6 867.3,515.6 867.4,517.1 867.4,514.9 867.5,515.0 867.5,516.3 867.5,512.6 867.6,513.0 867.6,511.7 867.7,512.7 867.7,509.7 867.8,508.2 867.8,509.9 867.9,508.2 867.9,507.5 868.0,508.4 868.0,505.3 868.0,505.2 868.1,505.0 868.1,504.6 868.2,502.8 868.2,503.8 868.3,504.5 868.3,500.7 868.4,502.5 868.4,497.2 868.5,500.5 868.5,497.7 868.6,497.5 868.6,496.2 868.6,495.1 868.7,493.7 868.7,493.9 868.8,495.1 868.8,494.2 868.9,491.7 868.9,490.8 869.0,489.8 869.0,488.5 869.0,491.2 869.1,489.2 869.1,487.8 869.2,486.3 869.2,485.0 869.2,486.9 869.3,485.6 869.3,482.8 869.4,484.3 869.4,481.1 869.4,482.4 869.5,479.8 869.5,479.7 869.6,480.0 869.6,479.2 869.6,479.1 869.7,476.2 869.7,478.2 869.8,477.2 869.8,474.9 869.8,474.7 869.9,472.5 869.9,472.5 870.0,470.4 870.0,471.3 870.0,470.7 870.1,471.2 870.1,470.0 870.2,469.1 870.2,467.0 870.2,466.4 870.3,465.5 870.3,465.4 870.4,462.2 870.4,464.6 870.4,461.1 870.5,461.6 870.5,461.5 870.6,460.1 870.6,461.9 870.6,459.1 870.7,460.2 870.7,459.0 870.8,456.4 870.8,456.7 870.8,456.9 870.9,454.3 870.9,454.0 871.0,452.6 871.0,452.5 871.0,451.3 871.1,451.0 871.1,451.4 871.2,451.1 871.2,448.9 871.2,448.2 871.3,448.2 871.3,446.1 871.4,444.5 871.4,446.2 871.4,443.1 871.5,444.5 871.5,441.6 871.6,444.1 871.6,440.0 871.6,441.4 871.7,441.4 871.7,437.9 871.7,439.9 871.8,436.5 871.8,434.7 871.9,436.8 871.9,436.0 871.9,434.2 872.0,430.8 872.0,432.9 872.1,431.9 872.1,431.0 872.1,430.4 872.2,427.9 872.2,428.6 872.2,430.6 872.3,429.5 872.3,426.6 872.4,425.4 872.4,425.9 872.4,426.0 872.5,424.8 872.5,421.9 872.6,422.7 872.6,421.9 872.6,422.6 872.7,421.6 872.7,420.1 872.8,420.1 872.8,417.5 872.8,419.0 872.9,416.0 872.9,416.2 872.9,416.1 873.0,413.2 873.0,412.7 873.1,410.7 873.1,412.2 873.1,411.2 873.2,410.1 873.2,410.3 873.3,406.6 873.3,408.2 873.3,407.6 873.4,406.5 873.4,406.9 873.5,407.3 873.5,404.0 873.6,402.7 873.6,402.3 873.6,402.4 873.7,402.2 873.7,399.8 873.8,401.2 873.8,398.1 873.9,399.5 873.9,398.3 873.9,397.6 874.0,398.8 874.0,395.2 874.1,394.6 874.1,394.6 874.2,394.3 874.2,391.0 874.2,392.1 874.3,390.2 874.3,391.0 874.4,391.1 874.4,388.8 874.5,387.9 874.5,387.5 874.5,383.4 874.6,386.7 874.6,385.7 874.7,384.5 874.7,383.1 874.8,382.0 874.8,381.8 874.8,382.7 874.9,380.4 874.9,381.4 875.0,376.1 875.0,377.8 875.1,377.9 875.1,376.8 875.1,374.1 875.2,374.5 875.2,376.0 875.3,372.3 875.3,371.9 875.4,371.1 875.4,370.9 875.5,371.6 875.5,370.8 875.5,367.0 875.6,370.3 875.6,367.1 875.7,366.4 875.7,368.2 875.8,365.5 875.8,363.4 875.8,363.3 875.9,362.5 875.9,361.4 875.9,361.4 876.0,362.1 876.0,360.7 876.0,358.0 876.1,362.0 876.1,356.9 876.1,357.5 876.2,356.6 876.2,356.7 876.2,354.7 876.3,354.9 876.3,356.0 876.3,353.0 876.4,350.8 876.4,351.7 876.4,349.7 876.5,349.4 876.5,349.3 876.5,348.7 876.5,347.3 876.6,347.8 876.6,345.9 876.6,343.8 876.7,345.6 876.7,343.4 876.7,344.5 876.8,341.6 876.8,342.3 876.8,341.2 876.9,337.0 876.9,337.6 876.9,337.3 877.0,339.5 877.0,334.9 877.0,337.4 877.1,336.9 877.1,335.4 877.1,334.9 877.1,332.8 877.2,332.6 877.2,332.1 877.2,331.6 877.3,331.2 877.3,329.4 877.3,328.1 877.4,327.5 877.4,327.8 877.4,324.7 877.5,324.4 877.5,324.6 877.5,323.7 877.6,323.3 877.6,319.8 877.6,321.7 877.7,321.1 877.7,321.5 877.7,317.6 877.8,318.8 877.8,318.9 877.8,318.2 877.9,318.3 877.9,317.3 877.9,314.2 878.0,315.4 878.0,313.5 878.0,312.2 878.1,314.1 878.1,310.9 878.1,309.9 878.2,309.7 878.2,308.4 878.2,309.8 878.3,308.3 878.3,308.7 878.3,306.9 878.4,304.9 878.4,306.1 878.4,303.4 878.5,302.9 878.5,302.4 878.5,301.9 878.6,302.5 878.6,299.7 878.6,300.0 878.7,298.9 878.7,296.7 878.7,296.1 878.7,296.4 878.8,296.4 878.8,295.5 878.8,294.9 878.9,293.7 878.9,292.4 878.9,292.6 879.0,290.2 879.0,289.1 879.0,289.5 879.0,287.5 879.1,287.8 879.1,286.8 879.1,286.3 879.2,286.1 879.2,284.5 879.2,284.2 879.2,281.9 879.3,283.3 879.3,281.4 879.3,282.1 879.4,277.8 879.4,279.2 879.4,279.7 879.5,275.8 879.5,277.5 879.5,277.3 879.5,276.5 879.6,273.9 879.6,275.2 879.6,274.3 879.7,272.3 879.7,273.5 879.7,271.9 879.7,271.2 879.8,269.9 879.8,270.3 879.8,269.0 879.9,269.5 879.9,267.9 879.9,266.0 880.0,265.7 880.0,266.2 880.0,264.2 880.0,263.9 880.1,263.2 880.1,262.1 880.1,260.3 880.2,260.7 880.2,260.0 880.2,259.2 880.3,258.1 880.3,258.3 880.3,256.9 880.4,255.9 880.4,255.1 880.4,254.8 880.5,253.4 880.5,252.7 880.6,253.4 880.6,252.3 880.6,251.4 880.7,250.8 880.7,249.7 880.7,247.9 880.8,248.5 880.8,247.8 880.8,246.7 880.9,244.7 880.9,245.5 881.0,244.8 881.0,243.2 881.0,242.8 881.1,242.3 881.1,241.2 881.1,241.0 881.2,239.7 881.2,239.3 881.2,238.2 881.3,236.7 881.3,236.2 881.4,237.2 881.4,235.3 881.4,235.1 881.5,234.3 881.5,233.8 881.5,232.5 881.6,231.2 881.6,230.7 881.6,229.0 881.7,229.1 881.7,228.9 881.8,226.7 881.8,227.1 881.8,226.6 881.9,226.1 881.9,224.3 881.9,223.6 882.0,222.3 882.0,222.0 882.0,222.0 882.1,222.0 882.1,219.7 882.2,220.1 882.2,218.9 882.2,217.7 882.3,218.3 882.3,215.2 882.3,215.7 882.4,215.1 882.4,215.3 882.5,214.3 882.5,213.8 882.5,212.0 882.6,211.7 882.6,211.1 882.6,210.0 882.7,209.2 882.7,208.1 882.8,207.3 882.8,206.1 882.8,206.9 882.9,205.0 882.9,203.5 882.9,203.9 883.0,203.0 883.0,202.3 883.1,202.4 883.1,200.7 883.1,199.9 883.2,198.9 883.2,198.5 883.2,197.5 883.3,197.1 883.3,197.5 883.4,195.7 883.4,194.3 883.4,194.9 883.5,193.7 883.5,192.9 883.6,192.1 883.6,191.4 883.6,190.6 883.7,190.2 883.7,189.2 883.7,188.7 883.8,187.0 883.8,186.5 883.9,185.4 883.9,185.5 883.9,184.7 884.0,183.3 884.0,183.0 884.0,183.3 884.1,181.9 884.1,180.0 884.2,179.7 884.2,179.3 884.2,178.3 884.3,177.7 884.3,177.3 884.3,176.2 884.4,174.7 884.4,174.9 884.5,173.7 884.5,173.1 884.6,172.0 884.6,170.9 884.7,170.2 884.7,169.9 884.8,168.8 884.8,167.2 884.9,168.3 884.9,166.5 885.0,165.9 885.0,165.8 885.1,163.6 885.1,164.7 885.2,162.9 885.2,162.9 885.3,161.6 885.3,161.2 885.4,160.4 885.4,159.6 885.5,157.9 885.5,157.3 885.6,157.3 885.6,157.3 885.7,155.6 885.7,155.3 885.8,154.4 885.9,153.8 885.9,153.3 886.0,151.3 886.0,151.5 886.1,150.5 886.1,150.0 886.2,150.5 886.3,151.3 886.3,151.9 886.4,152.6 886.5,155.1 886.6,155.5 886.6,155.4 886.7,156.5 886.8,156.4 886.8,155.1 886.9,154.7 886.9,154.9 886.9,154.8 887.0,153.4 887.0,152.1 887.1,151.8 887.1,150.6 887.1,149.7 887.2,149.5 887.2,148.7 887.3,147.7 887.3,146.9 887.3,146.2 887.4,146.0 887.4,145.8 887.5,144.3 887.5,144.7 887.7,143.3 887.8,145.0 888.0,145.0 888.2,146.2 888.4,147.0 888.5,146.5 888.5,146.1 888.6,144.5 888.7,143.4 888.8,143.2 888.8,142.7 888.9,141.4 889.0,141.5 889.1,141.1 889.1,138.8 889.2,139.0 889.3,138.5 889.4,137.8 889.5,139.5 889.6,140.1 889.6,140.2 889.7,142.3 889.8,142.5 889.9,142.9 890.0,144.1 890.1,145.0 890.2,145.8 890.3,146.4 890.4,146.3 890.5,144.8 890.7,144.4 890.8,144.0 890.9,142.5 890.9,145.6 891.0,145.2 891.0,145.6 891.0,145.9 891.1,147.7 891.1,148.3 891.1,148.8 891.1,149.6 891.2,150.1 891.2,151.0 891.2,152.0 891.2,152.5 891.3,153.9 891.3,154.3 891.3,155.1 891.4,156.0 891.4,157.2 891.4,157.0 891.5,156.0 891.6,155.1 891.7,154.0 891.7,153.5 891.8,153.3 891.9,152.3 892.0,151.3 892.0,150.1 892.1,149.2 892.2,149.4 892.2,150.0 892.3,150.5 892.3,150.4 892.4,151.7 892.4,152.6 892.4,152.8 892.5,154.2 892.5,154.7 892.6,155.1 892.6,155.7 892.7,157.4 892.7,157.9 892.7,158.1 892.8,158.8 892.8,160.5 892.9,161.1 892.9,161.4 893.0,163.0 893.0,162.9 893.0,163.2 893.1,165.0 893.1,165.2 893.2,166.2 893.2,166.8 893.3,167.0 893.3,167.7 893.3,168.9 893.4,170.4 893.4,170.0 893.5,171.9 893.5,172.1 893.6,172.2 893.6,173.6 893.6,174.5 893.7,174.6 893.7,174.7 893.8,176.7 893.8,176.7 893.9,178.2 893.9,177.8 893.9,179.4 894.0,179.8 894.0,180.3 894.1,181.6 894.1,182.6 894.2,183.0 894.2,183.4 894.2,184.8 894.3,184.6 894.4,186.5 894.4,187.2 894.5,188.5 894.5,188.9 894.6,189.4 894.6,190.1 894.7,190.7 894.7,190.8 894.8,192.9 894.8,193.2 894.9,193.6 894.9,193.9 895.0,195.9 895.0,196.2 895.1,196.1 895.1,197.8 895.2,199.1 895.2,198.9 895.3,199.9 895.3,200.2 895.4,200.9 895.4,202.5 895.5,204.0 895.5,203.5 895.6,204.1 895.6,205.3 895.7,205.5 895.7,206.8 895.8,207.6 895.8,207.4 895.9,208.2 895.9,209.4 896.0,210.6 896.0,211.1 896.1,212.3 896.1,211.7 896.2,213.4 896.2,213.6 896.3,214.7 896.3,215.6 896.4,215.7 896.4,216.8 896.4,217.1 896.5,218.5 896.5,218.7 896.5,219.7 896.5,220.8 896.6,221.1 896.6,222.7 896.6,222.6 896.6,224.1 896.7,224.5 896.7,224.6 896.7,225.8 896.8,226.2 896.8,227.2 896.8,228.0 896.8,229.8 896.9,229.4 896.9,231.2 896.9,231.4 896.9,231.3 897.0,231.5 897.0,233.7 897.0,233.2 897.0,235.2 897.1,236.1 897.1,236.6 897.1,237.0 897.1,237.8 897.2,238.8 897.2,239.2 897.2,239.9 897.2,240.7 897.3,242.2 897.3,242.1 897.3,243.3 897.4,243.3 897.4,244.3 897.4,244.7 897.4,246.0 897.5,247.2 897.5,247.8 897.5,248.1 897.5,249.4 897.6,249.7 897.6,250.8 897.6,251.5 897.6,252.4 897.7,251.7 897.7,253.0 897.7,254.8 897.7,255.1 897.8,257.0 897.8,256.5 897.8,257.1 897.8,258.9 897.9,259.1 897.9,260.5 897.9,260.6 898.0,261.0 898.0,262.7 898.1,261.7 898.1,262.9 898.1,263.5 898.2,264.6 898.2,266.5 898.3,265.8 898.3,267.5 898.4,267.3 898.4,269.6 898.4,266.2 898.5,269.9 898.5,271.1 898.6,270.4 898.6,273.5 898.7,273.4 898.7,275.3 898.7,275.7 898.8,276.1 898.8,275.9 898.9,275.6 898.9,277.3 898.9,277.8 899.0,279.4 899.0,279.3 899.1,283.7 899.1,279.5 899.2,283.5 899.2,282.3 899.2,283.3 899.3,285.4 899.3,285.1 899.4,284.4 899.4,287.1 899.5,287.1 899.5,285.7 899.5,289.1 899.6,288.4 899.6,289.5 899.6,291.6 899.6,292.2 899.7,292.2 899.7,295.8 899.7,294.6 899.7,294.1 899.7,295.9 899.8,296.2 899.8,294.5 899.8,296.0 899.8,297.0 899.8,301.7 899.9,299.9 899.9,300.5 899.9,300.9 899.9,303.5 899.9,303.1 899.9,305.8 900.0,305.5 900.0,307.2 900.0,305.9 900.0,307.3 900.0,307.1 900.1,308.1 900.1,307.1 900.1,309.2 900.1,309.5 900.1,310.6 900.2,313.5 900.2,313.1 900.2,315.0 900.2,315.3 900.2,316.1 900.2,317.0 900.3,315.9 900.3,318.3 900.3,317.7 900.3,318.2 900.3,321.0 900.4,322.8 900.4,319.9 900.4,323.8 900.4,323.5 900.4,322.3 900.5,324.4 900.5,325.3 900.5,326.0 900.5,325.9 900.5,325.6 900.5,327.9 900.6,329.6 900.6,330.2 900.6,330.8 900.6,332.1 900.6,330.4 900.7,332.3 900.7,333.5 900.7,335.0 900.7,334.7 900.8,335.9 900.8,336.2 900.8,339.2 900.8,335.0 900.9,338.3 900.9,341.9 900.9,340.1 900.9,338.4 901.0,341.5 901.0,340.4 901.0,342.0 901.1,343.8 901.1,346.3 901.1,345.6 901.1,346.6 901.2,347.7 901.2,347.5 901.2,347.1 901.3,348.7 901.3,349.9 901.3,350.0 901.3,350.3 901.4,351.4 901.4,350.8 901.4,352.1 901.5,353.9 901.5,354.4 901.5,355.6 901.5,357.9 901.6,357.4 901.6,357.8 901.6,357.2 901.7,358.1 901.7,360.5 901.7,359.8 901.7,362.0 901.8,361.1 901.8,363.2 901.8,363.7 901.8,365.7 901.8,364.8 901.8,365.6 901.9,367.1 901.9,367.6 901.9,370.2 901.9,368.8 901.9,369.2 901.9,370.2 901.9,371.8 901.9,372.3 902.0,373.6 902.0,371.9 902.0,377.2 902.0,377.2 902.0,375.8 902.0,375.2 902.0,377.5 902.0,378.5 902.0,376.2 902.1,379.6 902.1,378.6 902.1,381.6 902.1,383.4 902.1,383.7 902.1,381.6 902.1,385.6 902.1,385.8 902.2,385.1 902.2,386.9 902.2,388.8 902.2,387.4 902.2,388.5 902.2,388.6 902.2,391.4 902.2,388.3 902.3,393.2 902.3,391.2 902.3,394.1 902.3,391.9 902.3,393.5 902.3,394.6 902.3,397.0 902.3,394.9 902.3,398.2 902.4,397.6 902.4,400.5 902.4,399.4 902.4,401.1 902.4,401.1 902.4,404.1 902.4,402.4 902.4,403.5 902.5,406.6 902.5,405.1 902.5,406.6 902.5,405.7 902.5,407.5 902.5,405.4 902.5,408.9 902.5,408.8 902.5,408.6 902.6,409.4 902.6,413.1 902.6,413.0 902.6,411.5 902.6,416.1 902.6,414.0 902.6,415.1 902.6,416.6 902.7,415.7 902.7,415.9 902.7,417.7 902.7,420.7 902.7,421.1 902.7,419.0 902.7,422.9 902.7,422.3 902.8,423.6 902.8,423.9 902.8,425.0 902.8,424.1 902.8,425.0 902.8,426.0 902.8,427.1 902.9,429.0 902.9,427.6 902.9,431.6 902.9,429.8 902.9,430.6 902.9,432.9 902.9,433.3 903.0,433.1 903.0,433.1 903.0,433.9 903.0,433.9 903.0,437.9 903.0,438.5 903.0,440.2 903.0,439.4 903.1,439.9 903.1,441.2 903.1,442.1 903.1,441.5 903.1,442.9 903.1,445.8 903.1,442.1 903.2,443.2 903.2,444.4 903.2,447.2 903.2,448.4 903.2,447.4 903.2,449.3 903.2,449.2 903.3,450.4 903.3,450.2 903.3,451.5 903.3,452.3 903.3,454.3 903.3,456.4 903.3,452.4 903.4,455.9 903.4,456.0 903.4,457.9 903.4,458.8 903.4,459.2 903.4,460.0 903.4,458.7 903.5,458.6 903.5,463.2 903.5,463.4 903.5,461.7 903.5,465.0 903.5,465.1 903.5,462.2 903.6,466.8 903.6,465.4 903.6,468.6 903.6,467.2 903.6,467.9 903.7,467.7 903.7,470.0 903.7,472.2 903.7,471.0 903.7,470.4 903.7,475.8 903.8,476.2 903.8,475.6 903.8,474.9 903.8,474.9 903.8,475.1 903.8,478.4 903.9,480.0 903.9,478.1 903.9,480.0 903.9,480.5 903.9,481.2 903.9,482.9 904.0,485.4 904.0,483.0 904.0,485.5 904.0,486.5 904.0,485.7 904.1,486.6 904.1,486.0 904.1,489.5 904.1,488.4 904.1,489.0 904.1,490.6 904.2,490.3 904.2,490.8 904.2,492.4 904.2,495.2 904.2,494.0 904.2,495.6 904.3,494.1 904.3,494.3 904.3,499.4 904.3,497.6 904.3,497.0 904.3,499.4 904.4,501.0 904.4,499.0 904.4,500.8 904.4,502.8 904.4,502.2 904.5,504.9 904.5,505.9 904.5,506.0 904.5,505.8 904.5,507.0 904.5,507.0 904.6,508.4 904.6,509.6 904.6,509.7 904.6,511.9 904.7,514.5 904.7,511.6 904.7,513.4 904.7,514.7 904.7,515.3 904.8,515.0 904.8,515.5 904.8,517.9 904.8,518.2 904.8,518.9 904.9,518.1 904.9,520.5 904.9,521.4 904.9,521.1 904.9,522.8 905.0,525.3 905.0,521.3 905.0,525.0 905.0,523.7 905.0,524.2 905.1,526.2 905.1,527.9 905.1,528.1 905.1,527.4 905.1,527.8 905.2,529.6 905.2,531.0 905.2,530.8 905.2,530.8 905.2,535.3 905.3,533.0 905.3,534.6 905.3,534.9 905.3,535.6 905.3,537.1 905.4,537.4 905.4,539.2 905.4,537.9 905.4,538.3 905.4,543.0 905.5,541.4 905.5,543.2 905.5,544.4 905.5,544.4 905.6,544.6 905.6,543.5 905.6,544.1 905.6,547.9 905.6,548.3 905.7,548.9 905.7,547.1 905.7,547.3 905.7,549.3 905.7,549.9 905.8,552.2 905.8,551.6 905.8,555.3 905.8,553.5 905.9,554.4 905.9,556.8 905.9,556.9 905.9,556.2 906.0,559.0 906.0,561.0 906.0,558.1 906.0,560.0 906.1,559.7 906.1,559.5 906.1,563.2 906.1,564.1 906.2,565.1 906.2,565.2 906.2,563.2 906.2,566.2 906.3,566.2 906.3,566.4 906.3,567.2 906.3,570.1 906.4,569.6 906.4,573.0 906.4,572.0 906.4,570.0 906.4,574.0 906.5,575.2 906.5,574.5 906.5,573.8 906.5,578.1 906.6,575.2 906.6,577.4 906.6,576.0 906.6,577.5 906.7,577.8 906.7,581.8 906.7,582.6 906.7,581.5 906.8,581.2 906.8,583.4 906.8,584.7 906.8,583.2 906.9,584.4 906.9,586.4 906.9,588.1 906.9,588.1 907.0,589.3 907.0,588.0 907.0,587.3 907.0,591.3 907.1,590.7 907.1,592.3 907.1,592.8 907.1,594.5 907.2,593.8 907.2,597.2 907.2,596.3 907.2,597.6 907.2,598.5 907.2,599.7 907.3,599.7 907.3,597.9 907.3,600.0 907.3,603.7 907.3,602.8 907.3,603.6 907.3,604.3 907.4,603.7 907.4,604.4 907.4,605.2 907.4,608.1 907.4,607.9 907.4,610.3 907.4,609.6 907.5,611.9 907.5,611.0 907.5,609.8 907.5,614.0 907.5,613.1 907.5,614.9 907.5,614.5 907.6,614.6 907.6,615.9 907.6,615.2 907.6,615.8 907.6,616.9 907.6,618.1 907.6,617.9 907.7,620.1 907.7,621.3 907.7,624.1 907.7,624.6 907.7,623.2 907.7,625.0 907.8,624.5 907.8,625.9 907.8,626.2 907.8,626.3 907.8,627.8 907.8,626.7 907.8,629.7 907.9,629.6 907.9,629.4 907.9,631.1 907.9,632.9 907.9,632.2 907.9,634.3 907.9,635.1 908.0,637.1 908.0,634.7 908.0,636.6 908.0,638.1 908.0,640.0 908.0,639.3 908.0,640.6 908.1,638.7 908.1,640.5 908.1,643.9 908.1,642.4 908.1,646.0 908.2,643.4 908.2,644.6 908.2,643.8 908.3,647.2 908.3,647.5 908.3,650.4 908.4,648.9 908.4,649.2 908.4,648.5 908.5,650.9 908.5,652.8 908.6,653.3 908.6,654.7 908.6,655.0 908.7,654.7 908.7,656.2 908.7,656.4 908.8,655.4 908.8,659.7 908.8,658.9 908.9,658.0 908.9,660.4 909.0,661.0 909.0,662.6 909.0,663.9 909.1,659.8 909.1,664.4 909.1,666.3 909.2,664.1 909.2,663.7 909.2,667.0 909.3,667.8 909.3,668.6 909.4,667.6 909.4,669.1 909.4,670.7 909.5,672.1 909.5,674.5 909.5,673.0 909.6,672.7 909.6,671.4 909.6,676.2 909.7,675.5 909.7,676.3 909.8,676.0 909.8,678.8 909.8,676.6 909.9,679.6 909.9,680.3 909.9,681.3 910.0,683.2 910.0,682.3 910.0,683.3 910.1,684.9 910.1,682.8 910.1,685.1 910.2,686.3 910.2,688.1 910.3,686.7 910.4,689.4 910.5,689.6 910.5,688.1 910.6,688.9 910.7,689.7 910.8,692.3 910.9,693.1 910.9,694.5 911.0,695.4 911.1,694.5 911.2,697.1 911.2,697.6 911.3,697.9 911.4,698.7 911.5,697.3 911.5,700.0 911.6,699.1 911.7,699.7 911.8,701.4 911.8,702.8 911.9,703.3 912.0,703.7 912.1,703.6 912.1,705.8 912.2,705.4 912.3,705.4 912.4,707.9 912.4,710.3 912.5,708.8 912.6,708.8 912.7,712.4 912.8,713.6 912.8,711.9 912.9,712.8 913.0,714.0 913.1,717.6 913.1,715.4 913.2,717.2 913.3,717.3 913.4,715.3 913.4,716.9 913.5,717.5 913.6,720.3 913.7,720.6 913.8,723.4 914.0,721.6 914.1,723.1 914.2,723.5 914.3,724.4 914.4,727.7 914.5,726.0 914.6,728.2 914.7,728.7 914.8,727.2 914.9,729.5 915.1,728.6 915.2,730.4 915.3,731.2 915.4,731.7 915.5,731.4 915.6,736.2 915.7,733.3 915.8,736.0 915.9,738.7 916.0,737.3 916.2,738.9 916.3,740.3 916.4,740.5 916.5,742.5 916.6,736.9 916.7,744.4 916.9,741.3 917.1,738.5 917.3,741.4 917.4,740.6 917.6,744.1 917.8,741.9 918.0,743.6 918.2,746.9 918.4,747.4 918.5,746.2 918.7,748.0 918.9,749.0 919.1,750.1 919.3,750.7 919.5,751.0 919.7,753.9 919.8,749.7 920.0,752.6 920.4,754.5 920.7,754.1 921.1,754.5 921.4,755.4 921.7,757.4 922.1,760.1 922.4,757.9 922.8,758.4 923.1,760.3 923.4,759.8 923.8,757.1 924.1,762.2 924.6,761.5 925.1,761.6 925.7,764.4 926.3,763.8 926.8,763.0 927.4,760.3 928.0,761.7 928.6,765.6 929.1,765.9 929.7,767.4 930.3,767.5 930.9,766.6 931.4,765.5 932.0,766.3 932.6,768.7 933.1,767.2 933.7,771.5 934.3,767.8 934.9,767.4 935.4,771.0 936.0,768.4 936.6,775.6 937.1,770.9 937.9,772.9 938.6,772.5 939.4,771.4 940.1,769.5 940.9,769.3 941.6,774.7 942.4,775.0 943.1,777.3 943.9,770.1 944.6,774.1 945.4,773.0 946.1,774.7 946.9,772.0 947.6,774.4 948.3,774.9 949.1,774.5 949.8,776.4 950.5,773.3 951.2,777.0 952.0,772.7 952.7,777.6 953.4,769.3 954.1,774.7 954.8,773.3 955.6,775.1 956.3,777.3 957.0,776.9 957.7,775.9 958.5,779.3 959.2,773.2 959.9,774.8 960.6,779.7 961.3,777.6 961.9,773.1 962.6,778.2 963.3,775.5 964.0,781.1 964.7,780.7 965.4,777.6 966.1,781.6 966.8,777.6 967.5,781.4 968.2,781.0 968.9,779.9 969.6,777.6 970.3,780.1 971.0,776.4 971.7,780.1 972.4,777.8 973.1,784.2 973.8,780.1 974.5,777.4 975.2,783.7 975.9,783.5 976.6,782.0 977.3,787.6 978.0,785.1 978.7,783.8 979.5,782.4 980.2,778.5 981.0,784.7 981.7,785.7 982.5,782.6 983.2,780.9 984.0,783.7 984.7,780.4 985.5,783.8 986.2,785.4 987.0,786.8 987.7,784.4 988.5,784.2 989.2,785.4 990.0,786.7 990.7,783.2 991.5,781.4 992.2,782.3 993.0,781.4 993.7,782.1 994.5,783.7 995.2,784.6 996.0,784.3 996.7,784.1 997.5,783.3 998.2,784.8 999.0,785.8 999.7,785.5 1000.5,787.1 1001.2,783.4 1002.0,783.5 1002.7,787.5 1003.5,784.4 1004.2,784.8 1005.0,783.2 1005.7,786.0 1006.5,783.1 1007.2,781.8 1008.0,783.8 1008.7,783.0 1009.5,785.7 1010.2,783.1 1011.0,784.1 1011.7,783.4 1012.5,784.6 1013.2,782.5 1014.0,786.2 1014.7,780.9 1015.5,783.0 1016.2,782.3 1017.0,785.2 1017.7,783.9 1018.5,784.8 1019.2,783.1 1020.0,782.3 1020.7,781.4 1021.5,783.1 1022.2,782.7 1023.0,784.4 1023.7,784.5 1024.5,785.8 1025.2,783.5 1026.0,782.2 1026.7,781.5 1027.5,783.9 1028.2,784.5 1029.0,787.8 1029.7,784.1 1030.5,787.4 1031.2,787.6 1032.0,781.5 1032.7,786.2 1033.5,786.1 1034.2,786.5 1035.0,783.6 1035.7,785.6 1036.5,782.6 1037.2,783.5 1038.0,783.7 1038.7,787.4 1039.5,783.2 1040.2,785.6 1041.0,783.7 1041.7,782.1 1042.5,784.1 1043.2,785.0 1044.0,782.1 1044.7,784.9 1045.5,782.0 1046.2,781.7 1047.0,784.0 1047.7,783.0 1048.5,781.5 1049.2,780.1 1050.0,783.5 1050.7,784.0 1051.5,782.5 1052.2,783.9 1053.0,780.3 1053.7,784.4 1054.5,784.4 1055.2,784.1 1056.0,782.3 1056.7,783.7 1057.5,783.8 1058.2,785.8 1059.0,784.2 1059.7,784.1 1060.5,782.1 1061.2,785.4 1062.0,786.1 1062.7,782.6 1063.5,785.0 1064.2,784.3 1065.0,783.6 1065.7,781.0 1066.5,787.4 1067.2,779.8 1068.0,784.3 1068.7,782.9 1069.5,786.1 1070.2,782.8 1071.0,783.8 1071.7,785.0 1072.5,784.7 1073.2,782.6 1074.0,785.2 1074.7,784.6 1075.5,785.8 1076.2,782.7 1077.0,783.7 1077.7,783.0 1078.5,782.0 1079.2,784.3 1080.0,784.7 1080.7,786.8 1081.5,783.1 1082.2,784.6 1083.0,786.2 1083.7,783.6 1084.5,784.0 1085.2,784.1 1086.0,782.4 1086.7,781.8 1087.5,786.2 1088.2,784.2 1089.0,783.7 1089.7,781.3 1090.5,784.2 1091.2,786.4 1092.0,781.5 1092.7,782.1 1093.5,786.3 1094.2,786.9 1095.0,787.2 1095.7,782.8 1096.5,785.2 1097.2,782.4 1098.0,785.1 1098.7,783.2 1099.5,784.4 1100.2,786.8 1101.0,784.7 1101.7,783.5 1102.5,784.2 1103.2,784.6 1104.0,783.0 1104.7,784.5 1105.5,785.4 1106.2,787.4 1107.0,779.8 1107.7,781.7 1108.5,781.6 1109.2,786.0 1110.0,789.3 1110.7,784.6 1111.5,784.5 1112.2,786.6 1113.0,779.2 1113.7,783.9 1114.5,778.8 1115.2,784.6 1116.0,783.3 1116.7,783.3 1117.5,785.1 1118.2,783.1 1119.0,786.7 1119.7,784.4 1120.5,785.2 1121.2,789.7 1122.0,783.5 1122.7,786.4 1123.5,782.7 1124.2,787.1 1125.0,786.5 1125.7,784.8 1126.5,786.6 1127.2,787.9 1128.0,787.4 1128.7,784.6 1129.5,784.5 1130.2,786.9 1131.0,781.6 1131.7,783.4 1132.5,785.7 1133.2,785.8 1134.0,788.6 1134.7,788.4 1135.5,785.4 1136.2,785.6 1137.0,782.0 1137.7,784.4 1138.5,785.3 1139.2,784.3 1140.0,784.9 1140.7,786.1 1141.5,782.8 1142.2,783.7 1143.0,781.2 1143.7,787.3 1144.5,782.7 1145.2,781.4 1146.0,786.5 1146.7,784.5 1147.5,787.0 1148.2,784.2 1149.0,789.4 1149.7,786.5 1150.5,785.3 1151.2,785.3 1152.0,784.6 1152.7,786.7 1153.5,789.2 1154.2,784.2 1155.0,782.8 1155.7,786.3 1156.5,787.3 1157.2,782.0 1158.0,783.6 1158.7,783.0 1159.5,786.3 1160.2,786.2 1161.0,783.6 1161.7,782.8 1162.5,786.5 1163.2,780.9 1164.0,786.5 1164.7,784.8 1165.5,789.1 1166.2,787.2 1167.0,784.0 1167.7,784.6 1168.5,784.6 1169.2,783.7 1170.0,785.4 1170.7,787.2 1171.5,782.1 1172.2,784.8 1173.0,788.3 1173.7,786.8 1174.5,783.6 1175.2,783.6 1176.0,783.5 1176.7,781.9 1177.5,787.7 1178.2,785.4 1179.0,783.8 1179.7,782.3 1180.5,784.5 1181.2,784.3 1182.0,788.9 1182.7,784.4 1183.5,785.6 1184.2,787.6 1185.0,786.7 1185.7,785.0 1186.5,780.9 1187.2,788.3 1188.0,786.6 1188.7,784.5 1189.5,785.2 1190.2,783.4 1191.0,783.6 1191.7,782.4 1192.5,786.5 1193.2,786.5 1194.0,785.8 1194.7,787.1 1195.5,786.6 1196.2,785.7 1197.0,783.6 1197.7,786.7 1198.5,787.9 1199.2,786.8 1200.0,788.1 1200.7,784.5 1201.5,783.5 1202.2,788.1 1203.0,784.3 1203.7,786.0 1204.5,785.1 1205.2,785.5 1206.0,784.9 1206.7,784.4 1207.5,781.8 1208.2,789.4 1209.0,785.9 1209.7,781.5 1210.5,783.6 1211.2,783.2 1212.0,784.0 1212.7,780.2 1213.5,786.7 1214.2,788.9 1215.0,785.0 1215.7,787.0 1216.5,786.7 1217.2,782.9 1218.0,788.0 1218.7,782.0 1219.5,784.3 1220.2,784.8 1221.0,788.1 1221.7,785.7 1222.5,785.2 1223.2,783.8 1224.0,785.7 1224.7,785.6 1225.5,787.0 1226.2,788.4 1227.0,787.0 1227.7,785.5 1228.5,785.2 1229.2,788.8 1230.0,785.9 1230.7,785.4 1231.4,789.1 1232.2,788.6 1232.9,786.5 1233.7,785.1 1234.4,784.0 1235.2,787.4 1235.9,784.3 1236.7,787.1 1237.4,783.5 1238.2,785.3 1238.9,785.9 1239.7,785.3 1240.4,785.5 1241.2,785.7 1241.9,782.6 1242.7,782.6 1243.4,784.5 1244.2,788.5 1244.9,784.5 1245.7,782.8 1246.4,783.3 1247.2,784.7 1247.9,787.0 1248.7,783.4 1249.4,785.7 1250.2,785.0 1250.9,784.0 1251.6,783.0 1252.3,784.9 1253.0,783.9 1253.7,786.8 1254.5,782.1 1255.2,788.5 1255.9,788.0 1256.6,787.8 1257.3,790.0 1258.0,788.3 1258.8,783.1 1259.5,786.7 1260.2,787.4 1261.0,784.8 1261.7,783.7 1262.3,786.6 1262.8,786.3 1263.4,783.7 1263.9,783.6 1264.4,782.5 1264.9,781.8 1265.5,782.4 1266.0,784.3 1266.5,778.0 1267.1,780.2 1267.6,783.9 1268.2,780.7 1268.9,780.3 1269.7,781.7 1270.4,777.7 1271.2,777.2 1271.9,776.2 1272.7,776.6 1273.4,780.2 1274.2,781.4 1274.9,778.7 1275.7,778.1 1276.3,780.6 1276.9,781.5 1277.5,781.2 1278.1,777.0 1278.7,780.4 1279.3,776.6 1279.9,783.0 1280.5,781.1 1281.1,781.9 1281.7,787.0 1282.3,786.6 1282.9,784.3 1283.5,783.4 1284.1,782.7 1284.6,780.6 1285.2,781.2 1285.8,784.9 1286.4,778.5 1286.9,778.5 1287.5,779.8 1288.1,780.9 1288.8,780.5 1289.5,776.3 1290.2,777.8 1290.9,777.2 1291.6,774.9 1292.3,777.4 1292.9,775.9 1293.6,778.6 1294.3,777.3 1295.1,774.5 1295.8,776.1 1296.5,774.9 1297.2,774.1 1297.9,774.2 1298.6,777.2 1299.3,773.8 1300.0,770.8 1300.7,772.5 1301.4,775.5 1302.0,778.1 1302.7,770.9 1303.4,772.0 1304.1,771.8 1304.7,769.1 1305.3,772.5 1305.8,771.0 1306.2,771.1 1306.7,774.7 1307.2,768.8 1307.6,770.4 1307.8,769.8 1308.1,765.9 1308.3,765.3 1308.5,769.2 1308.8,766.7 1309.0,764.9 1309.2,762.9 1309.5,767.9 1309.7,767.8 1309.9,772.1 1310.1,771.3 1310.3,770.6 1310.6,770.1 1310.8,770.4 1311.0,769.8 1311.7,771.4 1312.4,771.0 1313.1,771.6 1313.8,772.2 1314.5,770.3 1315.2,768.2 1315.9,770.8 1316.6,772.4 1317.4,767.3 1318.1,770.1 1318.8,770.4 1319.6,770.5 1320.3,770.5 1321.1,769.3 1321.5,769.3"/>
<polyline stroke="#747474" stroke-width="2.8" points="123.1,770.9 123.8,769.1 126.9,759.6 129.5,767.4 134.2,733.7 138.1,762.2 140.4,747.6 144.2,776.0 145.9,767.4 148.5,774.3 151.1,769.1 154.5,778.6 157.1,772.6 160.6,776.9 163.2,774.3 165.8,757.1 168.3,764.0 170.1,757.9 171.8,760.5 175.3,762.2 179.6,774.3 182.2,753.6 185.1,727.7 188.2,753.6 190.8,760.5 193.4,751.9 196.0,762.2 199.4,769.1 202.0,762.2 204.6,770.9 208.1,776.9 210.6,767.4 214.1,772.6 216.7,776.9 220.1,760.5 222.7,757.1 225.3,770.9 227.9,760.5 230.8,748.4 234.0,762.2 236.5,778.6 239.1,760.5 240.9,751.9 243.5,762.2 245.2,755.3 247.4,747.6 250.4,760.5 252.1,753.6 254.7,747.6 258.1,762.2 260.2,746.7 262.8,724.6 265.9,746.7 268.5,764.0 271.9,776.9 274.5,760.5 277.1,746.7 279.2,750.1 281.8,734.9 284.0,746.7 286.6,769.1 288.3,746.7 290.1,727.7 292.7,743.2 295.3,741.5 297.8,755.3 300.4,765.7 303.0,757.1 305.6,762.2 308.2,750.1 310.8,719.1 313.4,669.9 316.5,719.1 319.4,764.0 322.0,719.1 323.7,720.8 326.0,713.0 328.9,727.7 332.4,748.4 335.0,736.3 337.6,755.3 340.7,769.1 342.7,746.7 344.5,734.6 347.1,746.7 348.8,739.8 352.1,723.4 355.2,746.7 358.6,757.1 362.1,739.8 365.9,686.3 369.0,732.9 371.6,731.2 375.0,720.8 378.5,746.7 380.2,762.2 382.8,760.5 385.7,724.2 388.0,731.2 390.2,726.0 393.2,750.1 395.8,755.3 398.3,719.1 400.4,702.7 403.5,736.3 406.1,750.1 408.7,726.0 411.6,710.4 414.7,758.8 418.2,732.9 420.8,710.4 422.9,682.8 426.0,724.2 428.6,753.6 431.2,724.2 433.2,707.8 436.3,746.7 438.1,764.0 441.5,741.5 444.1,757.1 446.7,743.2 449.3,757.1 451.9,764.0 454.5,753.6 457.1,757.1 460.5,769.1 463.1,760.5 465.7,765.7 468.3,760.5 470.9,746.7 472.2,741.5 474.3,753.6 476.9,745.8 479.5,762.2 481.6,722.5 483.8,709.6 486.4,736.3 488.1,757.1 490.7,725.1 493.3,746.7 494.2,769.1 496.8,743.2 498.5,738.1 501.9,753.6 503.7,762.2 506.3,757.1 508.0,765.7 510.6,757.1 514.0,772.6 516.6,753.6 519.2,722.5 521.8,710.4 524.7,681.1 527.8,715.6 531.3,726.0 533.0,746.7 535.6,770.9 539.1,760.5 542.5,746.7 545.1,762.2 548.6,696.6 551.2,736.3 553.7,774.3 556.3,719.1 558.1,696.6 559.8,701.8 561.5,677.6 564.1,673.3 566.7,701.8 568.4,732.9 571.9,739.8 574.5,757.1 577.1,719.1 579.1,692.3 582.2,753.6 585.6,627.0 588.4,650.0 591.6,571.0 595.5,742.6 603.0,580.0 605.2,511.6 608.0,600.0 615.4,748.0 618.6,731.8 620.8,750.0 626.6,634.0 629.3,707.0 632.7,611.0 635.2,703.5 639.1,536.4 644.6,751.3 650.0,716.7 652.8,568.9 654.0,585.0 655.4,571.0 658.6,733.0 662.2,609.0 665.1,722.0 669.4,649.7 673.7,742.6 677.4,592.6 683.5,721.0 688.9,551.6 697.5,771.8 703.6,526.7 706.6,717.8 713.2,307.0 717.6,708.0 725.0,569.0 732.1,672.4 735.3,547.0 740.7,670.0 744.0,483.5 750.7,716.7 753.7,546.0 759.1,626.0 761.7,427.3 765.6,718.9 768.2,662.7 771.4,691.9 774.2,561.3 776.3,600.0 778.6,485.6 781.0,640.0 782.9,570.0 786.8,670.0 790.4,496.5 792.5,512.0 794.8,477.0 796.9,644.0 799.0,590.0 801.2,658.0 804.0,516.0 807.0,620.0 810.4,407.5 813.0,540.0 816.0,362.0 824.0,718.9 827.2,637.8 831.1,730.8 835.8,621.6 839.5,669.0 844.5,496.5 846.0,515.0 847.7,507.0 850.5,600.0 854.2,492.0 855.5,520.0 858.6,373.0 867.5,693.0 873.7,422.7 876.3,458.0 879.1,417.3 881.3,445.0 885.4,597.0 887.6,490.0 890.8,593.0 893.5,540.0 896.6,601.5 898.5,480.5 901.6,608.0 904.5,500.0 907.0,560.0 909.2,372.0 910.4,468.0 911.7,360.0 913.0,445.0 914.5,330.0 915.2,170.0 916.2,28.0 917.9,28.0 918.4,161.0 920.6,118.0 920.9,200.0 921.5,340.0 921.9,340.0 922.7,120.0 923.3,28.0 928.4,28.0 928.7,130.0 929.5,220.0 931.0,320.0 932.9,453.5 937.0,285.7 940.5,583.0 944.0,262.0 950.2,608.0 952.0,487.0 956.4,679.0 960.3,316.0 962.7,480.0 965.3,420.0 970.8,773.0 976.6,526.0 981.6,765.0 985.9,534.5 988.5,665.0 991.4,321.0 994.0,470.0 995.6,480.5 1001.0,789.0"/>
<polyline stroke="#747474" stroke-width="2.8" points="1111.0,789.0 1115.1,542.4 1122.5,789.0"/>
<polyline stroke="#747474" stroke-width="2.8" points="1128.9,789.0 1133.6,338.0 1140.1,789.0"/>
<polyline stroke="#000000" stroke-width="6" points="144.2,759.1 149.4,759.1 154.5,760.5 159.7,765.7 164.5,770.5 170.1,768.8 177.0,766.9 183.0,765.7 186.5,759.6 192.5,758.4 201.2,759.1 206.3,757.4 211.5,763.1 216.7,766.5 223.6,767.8 230.5,766.5 240.9,762.6 251.2,759.6 258.1,758.8 265.0,753.1 271.9,755.3 277.1,755.7 283.2,753.6 288.3,758.4 294.4,751.9 299.6,750.1 307.3,751.9 311.7,746.7 316.0,739.8 320.3,738.9 327.2,729.4 334.1,726.0 337.6,731.2 339.3,736.3 344.5,740.6 351.4,744.1 350.0,744.6 355.2,745.8 360.4,748.8 365.5,739.8 374.2,734.1 381.1,735.8 387.1,734.6 393.2,739.8 399.2,742.4 405.3,736.3 410.4,735.1 416.5,735.5 423.4,729.9 429.4,729.9 434.1,728.0 438.1,731.2 443.2,731.2 449.3,739.8 455.3,744.6 460.5,751.0 467.4,755.3 473.5,757.4 480.4,755.3 486.4,747.6 493.3,743.8 500.2,743.2 505.4,745.0 510.6,750.1 516.6,755.0 523.5,750.1 527.8,741.5 533.0,735.8 541.7,735.8 548.6,740.6 555.5,748.1 559.8,741.5 564.1,726.0 569.3,720.8 574.5,725.5 579.6,717.7 583.1,718.2 587.3,713.5 591.6,698.3 597.0,686.5 602.4,673.5 605.7,649.7 608.9,641.1 613.2,647.6 616.5,664.8 620.8,673.5 626.2,674.6 629.4,692.9 631.6,698.3 635.9,689.7 639.2,673.5 642.4,660.5 650.0,659.4 653.2,646.5 656.5,642.1 660.8,648.6 665.1,659.4 671.6,656.2 678.1,664.8 682.4,671.3 686.7,678.9 691.0,663.8 695.4,665.9 699.7,675.6 702.9,680.0 708.3,667.0 712.7,657.3 715.9,625.9 719.1,600.0 722.4,585.0 725.6,577.5 729.5,583.5 734.2,581.0 736.8,598.0 740.0,618.0 742.5,606.0 744.6,601.0 747.0,606.0 750.5,612.5 753.7,609.0 757.4,600.0 761.3,596.0 764.3,582.5 766.8,598.0 770.0,607.0 772.5,613.5 776.2,604.0 779.6,601.0 782.9,594.0 785.5,606.0 787.8,619.5 790.4,597.0 793.0,578.0 796.5,561.5 802.3,572.5 807.7,571.5 811.0,551.0 814.2,540.0 817.5,533.8 821.8,539.7 827.2,554.8 832.6,572.0 835.8,590.0 838.6,615.0 841.9,640.0 845.0,626.0 847.4,613.0 850.8,601.5 855.1,580.0 858.4,554.0 861.6,536.7 863.8,533.5 867.0,551.8 870.3,564.8 873.5,549.7 876.7,537.8 880.0,533.5 885.4,538.9 888.6,528.0 891.9,513.0 894.0,508.6 897.3,519.4 902.7,523.7 907.0,542.0 911.3,523.7 914.6,506.5 916.1,484.8 917.4,452.4 918.5,420.0 920.2,374.0 922.3,348.0 924.0,320.0 925.0,290.0 925.8,259.7 926.7,216.5 927.7,173.0 929.9,147.3 933.1,146.2 936.4,145.0 938.1,138.6 940.3,151.6 941.1,173.2 942.9,205.6 946.1,231.6 947.6,259.7 948.6,300.0 949.5,334.0 950.4,352.4 952.6,384.8 954.8,417.3 956.9,449.7 959.1,475.6 962.3,484.3 965.6,477.8 967.7,492.9 969.5,510.0 970.8,528.0 972.3,549.7 975.1,564.8 980.5,574.5 983.7,588.6 987.0,608.0 989.1,643.2 992.4,626.0 993.9,592.9 996.0,571.3 998.2,568.0 999.9,586.4 1003.2,603.7 1007.5,616.7 1008.6,626.0 1011.8,654.0 1015.1,686.5 1017.2,718.9 1019.4,751.3 1021.5,773.0 1023.3,789.5"/>
<polyline stroke="#000000" stroke-width="6" points="1112.3,789.5 1113.8,768.6 1115.9,751.3 1118.1,740.5 1121.3,737.9 1128.9,737.2 1131.1,729.7 1133.2,697.3 1135.0,664.8 1137.1,651.9 1139.3,664.8 1140.8,686.5 1143.0,692.9 1151.6,694.0 1154.8,699.4 1157.0,718.9 1158.7,751.3 1160.2,772.9 1161.8,788.0"/>
</g></g>
<line x1="123.2" y1="788.8" x2="1321.7" y2="788.8" stroke="#262626" stroke-width="1.3"/>
<g class="tk">
<text x="123.8" y="852.8" text-anchor="middle">0</text>
<text x="363.5" y="852.8" text-anchor="middle">500</text>
<text x="603.2" y="852.8" text-anchor="middle">1000</text>
<text x="842.9" y="852.8" text-anchor="middle">1500</text>
<text x="1082.6" y="852.8" text-anchor="middle">2000</text>
<text x="1322.3" y="852.8" text-anchor="middle">2500</text>
</g>
<text x="142" y="93.8" font-family="Liberation Sans, sans-serif" font-size="41.5" letter-spacing="1.6" fill="#111">(b)</text>
<text class="b" x="404" y="123.2" font-size="42.8">XVII</text>
<text class="b" x="526.5" y="913" font-size="41.5">Wavenumbers, cm<tspan dy="-15" font-size="26">-1</tspan></text>
<text class="b" transform="translate(64.6,416.3) rotate(-90)" text-anchor="middle" font-size="49">Intensity</text>
</svg>
</body>
</html>
